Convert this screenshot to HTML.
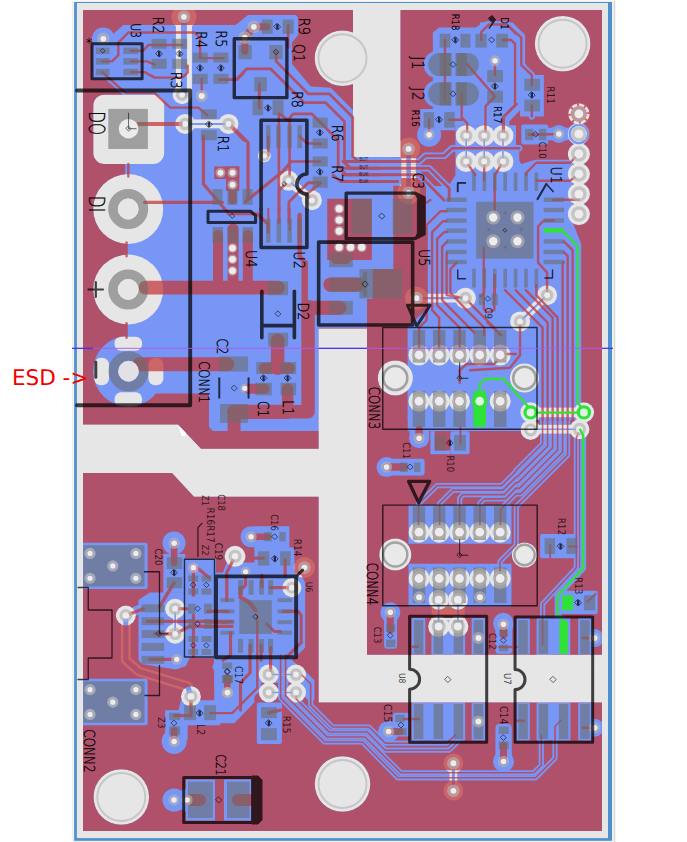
<!DOCTYPE html>
<html><head><meta charset="utf-8"><title>PCB layout</title>
<style>html,body{margin:0;padding:0;background:#fff;overflow:hidden}svg{display:block}text{font-family:"DejaVu Sans","Liberation Sans",sans-serif;text-rendering:geometricPrecision}</style>
</head><body>
<svg width="687" height="842" viewBox="0 0 687 842" shape-rendering="geometricPrecision">
<rect width="687" height="842" fill="#fff"/>
<rect x="72" y="0.5" width="642.5" height="842" fill="#fff"/>
<rect x="72" y="0.6" width="542.6" height="842" fill="#f1efec"/>
<rect x="614.4" y="0.6" width="0.8" height="842" fill="#c9c9c9"/>
<rect x="74.15" y="2" width="537.85" height="838.8" fill="#4f90d0"/>
<rect x="76.9" y="3" width="531.1" height="835.1" fill="#e6e6e6"/>
<g id="bottom">
<path d="M83,10H602V831H83Z" fill="#7896f5"/>
<g fill="#e6e6e6" stroke="#e6e6e6" stroke-width="0" stroke-linecap="round" stroke-linejoin="round">
<rect x="353.0" y="8.0" width="47.5" height="149.0"/>
<polygon points="80.0,424.6 178.0,424.6 201.0,448.8 318.6,448.8 318.6,328.5 367.0,328.5 367.0,654.8 604.0,654.8 604.0,702.6 318.6,702.6 318.6,496.8 194.0,496.8 172.0,473.0 80.0,473.0"/>
<circle cx="342.5" cy="58.2" r="27.8"/>
<circle cx="562.6" cy="43.7" r="27.8"/>
<circle cx="121.3" cy="797.0" r="27.8"/>
<circle cx="342.5" cy="784.0" r="27.8"/>
<rect x="93.28" y="94.64" width="70.86" height="69.36" rx="11"/>
<polyline points="183.92,16.78 183.92,94.64" stroke-width="16" fill="none"/>
<circle cx="183.92" cy="16.78" r="12.5"/>
<circle cx="182.17" cy="94.64" r="9.5"/>
<polyline points="185.17,123.94 228.48,123.94" stroke-width="8.8" fill="none"/>
<circle cx="185.17" cy="123.94" r="10"/>
<circle cx="228.48" cy="123.94" r="10"/>
<circle cx="264.33" cy="155.73" r="6.5"/>
<polyline points="288.62,180.77 311.91,200.3" stroke-width="8.8" fill="none"/>
<circle cx="288.62" cy="180.77" r="10"/>
<circle cx="311.91" cy="200.3" r="10"/>
<polyline points="466.18,135.7 466.18,161.49" stroke-width="1.6" fill="none"/>
<circle cx="466.18" cy="135.7" r="10.5"/>
<circle cx="466.18" cy="161.49" r="10.5"/>
<polyline points="484.21,135.7 484.21,161.49" stroke-width="1.6" fill="none"/>
<circle cx="484.21" cy="135.7" r="10.5"/>
<circle cx="484.21" cy="161.49" r="10.5"/>
<polyline points="502.99,135.7 502.99,161.49" stroke-width="1.6" fill="none"/>
<circle cx="502.99" cy="135.7" r="10.5"/>
<circle cx="502.99" cy="161.49" r="10.5"/>
<polyline points="408.6,148.97 408.6,192.79" stroke-width="14.5" fill="none"/>
<circle cx="408.6" cy="148.97" r="11.5"/>
<circle cx="408.6" cy="192.79" r="11.5"/>
<circle cx="578.9" cy="113.92" r="11.02"/>
<circle cx="578.9" cy="133.95" r="11.02"/>
<circle cx="578.9" cy="153.98" r="11.02"/>
<circle cx="578.9" cy="174.01" r="11.02"/>
<circle cx="578.9" cy="194.04" r="11.02"/>
<circle cx="578.9" cy="214.07" r="11.02"/>
<circle cx="128.2" cy="209.0" r="35.0"/>
<circle cx="128.2" cy="289.5" r="35.0"/>
<rect x="114.56" y="336.69" width="27.55" height="14.02" rx="6.5"/>
<rect x="114.56" y="392.27" width="27.55" height="14.53" rx="6.5"/>
<rect x="94.03" y="357.72" width="15.03" height="27.54" rx="7"/>
<rect x="148.36" y="357.72" width="15.03" height="27.54" rx="7"/>
<polyline points="416.61,298.13 465.43,298.13" stroke-width="8.6" fill="none"/>
<circle cx="416.61" cy="298.13" r="11.5"/>
<circle cx="465.43" cy="298.13" r="10.5"/>
<circle cx="419.0" cy="355.0" r="10.5"/>
<circle cx="419.0" cy="401.25" r="10.5"/>
<circle cx="439.2" cy="355.0" r="10.5"/>
<circle cx="439.2" cy="401.25" r="10.5"/>
<circle cx="459.5" cy="355.0" r="10.5"/>
<circle cx="459.5" cy="401.25" r="10.5"/>
<circle cx="479.75" cy="355.0" r="10.5"/>
<circle cx="500.2" cy="355.0" r="10.5"/>
<circle cx="500.2" cy="401.25" r="10.5"/>
<circle cx="395.3" cy="378.0" r="17.5"/>
<circle cx="524.5" cy="378.0" r="14.5"/>
<polyline points="547.1,295.13 520.06,321.42" stroke-width="8.6" fill="none"/>
<circle cx="547.1" cy="295.13" r="10"/>
<circle cx="520.06" cy="321.42" r="10"/>
<circle cx="125.83" cy="615.52" r="10.02"/>
<polyline points="175.15,608.76 175.15,633.8" stroke-width="4.4" fill="none"/>
<circle cx="175.15" cy="608.76" r="10"/>
<circle cx="175.15" cy="633.8" r="10"/>
<polyline points="125.8,617.0 125.8,660.0 138.6,671.4 188.0,686.5 190.75,696.25" stroke-width="9.8" fill="none"/>
<circle cx="190.93" cy="696.39" r="10.02"/>
<circle cx="291.88" cy="587.63" r="9.51"/>
<circle cx="304.39" cy="567.6" r="10.5"/>
<circle cx="235.04" cy="556.33" r="10.52"/>
<polyline points="268.75,674.5 296.0,674.5" stroke-width="1.4" fill="none"/>
<circle cx="268.75" cy="674.5" r="10.0"/>
<circle cx="296.0" cy="674.5" r="10.0"/>
<polyline points="268.75,692.5 296.0,692.5" stroke-width="1.4" fill="none"/>
<circle cx="268.75" cy="692.5" r="10.0"/>
<circle cx="296.0" cy="692.5" r="10.0"/>
<circle cx="419.0" cy="532.2" r="10.5"/>
<circle cx="419.0" cy="578.5" r="10.5"/>
<circle cx="439.2" cy="532.2" r="10.5"/>
<circle cx="439.2" cy="578.5" r="10.5"/>
<circle cx="459.5" cy="532.2" r="10.5"/>
<circle cx="459.5" cy="578.5" r="10.5"/>
<circle cx="479.75" cy="532.2" r="10.5"/>
<circle cx="479.75" cy="578.5" r="10.5"/>
<circle cx="500.2" cy="532.2" r="10.5"/>
<circle cx="500.2" cy="578.5" r="10.5"/>
<circle cx="395.3" cy="554.5" r="16.0"/>
<circle cx="524.5" cy="555.0" r="12.6"/>
<rect x="431.63" y="605.28" width="33.05" height="15.02"/>
<circle cx="438.64" cy="599.77" r="10.02"/>
<circle cx="438.64" cy="626.56" r="10.52"/>
<polyline points="438.64,599.77 438.64,626.56" stroke-width="1.6" fill="none"/>
<circle cx="457.92" cy="599.77" r="10.02"/>
<circle cx="457.92" cy="626.56" r="10.52"/>
<polyline points="457.92,599.77 457.92,626.56" stroke-width="1.6" fill="none"/>
<rect x="531.0" y="407.6" width="53.0" height="9.6"/>
<rect x="531.0" y="424.8" width="49.0" height="8.8"/>
<polyline points="531.0,429.3 579.0,429.3" stroke-width="1.4" fill="none"/>
<circle cx="530.6" cy="429.9" r="10.0"/>
<circle cx="579.5" cy="429.3" r="10.0"/>
<circle cx="530.6" cy="412.4" r="10.2"/>
<circle cx="583.9" cy="412.4" r="10.2"/>
<polyline points="453.41,763.24 453.41,790.79" stroke-width="7.8" fill="none"/>
<circle cx="453.41" cy="763.24" r="9.8"/>
<circle cx="453.41" cy="790.79" r="9.8"/>
</g>
<g fill="none" stroke="#7896f5" stroke-linecap="round" stroke-linejoin="round">
<polyline points="183.92,16.78 183.92,94.64" stroke-width="6" fill="none"/>
<polyline points="185.17,123.94 228.48,123.94" stroke-width="2" fill="none"/>
<polyline points="288.62,180.77 311.91,200.3" stroke-width="2" fill="none"/>
<polyline points="466.18,135.7 466.18,161.49" stroke-width="1.6" fill="none"/>
<polyline points="484.21,135.7 484.21,161.49" stroke-width="1.6" fill="none"/>
<polyline points="502.99,135.7 502.99,161.49" stroke-width="1.6" fill="none"/>
<polyline points="408.6,148.97 408.6,192.79" stroke-width="4.5" fill="none"/>
<circle cx="578.9" cy="133.95" r="9.2" stroke-width="2.4" stroke-dasharray="5.2 2"/>
<polyline points="416.61,298.13 465.43,298.13" stroke-width="2.2" fill="none"/>
<polyline points="547.1,295.13 520.06,321.42" stroke-width="2" fill="none"/>
<polyline points="175.15,608.76 175.15,633.8" stroke-width="1.6" fill="none"/>
<polyline points="125.8,617.0 125.8,660.0 138.6,671.4 188.0,686.5 190.75,696.25" stroke-width="5" fill="none"/>
<polyline points="268.75,674.5 296.0,674.5" stroke-width="1.4" fill="none"/>
<polyline points="268.75,692.5 296.0,692.5" stroke-width="1.4" fill="none"/>
<polyline points="438.64,599.77 438.64,626.56" stroke-width="1.6" fill="none"/>
<polyline points="457.92,599.77 457.92,626.56" stroke-width="1.6" fill="none"/>
<polyline points="531.0,429.3 579.0,429.3" stroke-width="1.4" fill="none"/>
<polyline points="453.41,763.24 453.41,790.79" stroke-width="3" fill="none"/>
</g>
</g>
<mask id="tm" maskUnits="userSpaceOnUse" x="0" y="0" width="687" height="842">
<path d="M83,10H602V831H83Z" fill="#fff"/>
<g fill="#000" stroke="#000" stroke-width="0" stroke-linecap="round" stroke-linejoin="round">
<rect x="353.0" y="8.0" width="47.5" height="149.0"/>
<polygon points="80.0,424.6 178.0,424.6 201.0,448.8 318.6,448.8 318.6,328.5 367.0,328.5 367.0,654.8 604.0,654.8 604.0,702.6 318.6,702.6 318.6,496.8 194.0,496.8 172.0,473.0 80.0,473.0"/>
<circle cx="342.5" cy="58.2" r="27.8"/>
<circle cx="562.6" cy="43.7" r="27.8"/>
<circle cx="121.3" cy="797.0" r="27.8"/>
<circle cx="342.5" cy="784.0" r="27.8"/>
<rect x="93.28" y="94.64" width="70.86" height="69.36" rx="11"/>
<circle cx="578.9" cy="153.98" r="11.02"/>
<circle cx="578.9" cy="174.01" r="11.02"/>
<circle cx="578.9" cy="194.04" r="11.02"/>
<circle cx="578.9" cy="214.07" r="11.02"/>
<circle cx="128.2" cy="209.0" r="35.0"/>
<circle cx="128.2" cy="289.5" r="35.0"/>
<circle cx="395.3" cy="378.0" r="17.5"/>
<circle cx="125.83" cy="615.52" r="10.02"/>
<circle cx="190.93" cy="696.39" r="10.02"/>
<circle cx="291.88" cy="587.63" r="9.51"/>
<circle cx="235.04" cy="556.33" r="10.52"/>
<circle cx="268.75" cy="674.5" r="10.0"/>
<circle cx="296.0" cy="674.5" r="10.0"/>
<circle cx="268.75" cy="692.5" r="10.0"/>
<circle cx="296.0" cy="692.5" r="10.0"/>
<circle cx="395.3" cy="554.5" r="16.0"/>
<circle cx="524.5" cy="555.0" r="12.6"/>
<circle cx="438.64" cy="599.77" r="10.02"/>
<circle cx="438.64" cy="626.56" r="10.52"/>
<circle cx="457.92" cy="599.77" r="10.02"/>
<circle cx="457.92" cy="626.56" r="10.52"/>
<rect x="531.0" y="407.6" width="53.0" height="9.6"/>
<rect x="531.0" y="424.8" width="49.0" height="8.8"/>
<circle cx="530.6" cy="429.9" r="10.0"/>
<circle cx="579.5" cy="429.3" r="10.0"/>
<circle cx="530.6" cy="412.4" r="10.2"/>
<circle cx="583.9" cy="412.4" r="10.2"/>
<polygon points="92.03,43.82 112.06,35.05 123.33,25.04 244.01,25.04 244.01,210.07 125.83,210.07 125.83,94.64 105.8,79.62 92.03,79.62"/>
<circle cx="103.3" cy="38.81" r="11.27"/>
<rect x="93.79" y="45.57" width="17.77" height="10.51" rx="2.0"/>
<rect x="121.33" y="45.57" width="19.02" height="10.51" rx="2.0"/>
<rect x="93.79" y="56.09" width="17.77" height="10.51" rx="2.0"/>
<rect x="121.33" y="56.09" width="19.02" height="10.51" rx="2.0"/>
<rect x="93.79" y="66.85" width="17.77" height="10.51" rx="2.0"/>
<rect x="121.33" y="66.85" width="19.02" height="10.51" rx="2.0"/>
<rect x="149.62" y="36.81" width="19.02" height="14.01" rx="2.0"/>
<rect x="149.62" y="56.84" width="19.02" height="14.01" rx="2.0"/>
<rect x="170.15" y="36.81" width="19.02" height="14.01" rx="2.0"/>
<rect x="170.15" y="56.84" width="19.02" height="14.01" rx="2.0"/>
<rect x="190.68" y="50.58" width="19.02" height="14.01" rx="2.0"/>
<rect x="190.68" y="71.86" width="19.02" height="14.02" rx="2.0"/>
<rect x="211.46" y="50.58" width="19.02" height="14.01" rx="2.0"/>
<rect x="211.46" y="71.86" width="19.02" height="14.02" rx="2.0"/>
<rect x="198.94" y="107.41" width="19.78" height="13.52" rx="2.0"/>
<rect x="198.94" y="128.2" width="19.78" height="14.01" rx="2.0"/>
<polyline points="138.35,123.94 185.17,123.94" stroke-width="7.8" fill="none"/>
<polyline points="102.05,61.34 112.06,61.34 118.32,55.08 118.32,42.56 128.33,32.55 194.68,32.55 200.19,38.06 200.19,58.09 223.48,58.09" stroke-width="6.2" fill="none"/>
<polyline points="130.84,50.83 142.86,50.83 148.36,45.07 182.17,45.07" stroke-width="6.2" fill="none"/>
<polyline points="130.84,61.34 147.11,61.34 154.62,64.6" stroke-width="6.2" fill="none"/>
<polyline points="130.84,72.11 144.61,72.11 154.62,77.62 182.17,77.62 187.67,72.61 187.67,65.6" stroke-width="6.2" fill="none"/>
<polyline points="102.05,72.11 125.83,93.14 154.62,93.14 170.15,107.66 198.44,107.66 207.2,115.17" stroke-width="6.2" fill="none"/>
<polyline points="201.69,78.87 201.69,95.89" stroke-width="6.2" fill="none"/>
<polyline points="219.72,79.62 237.25,79.62 244.01,72.61" stroke-width="6.2" fill="none"/>
<polyline points="203.45,136.45 203.45,184.03 228.99,214.07" stroke-width="7.0" fill="none"/>
<polyline points="228.48,123.94 244.01,140.21" stroke-width="7.0" fill="none"/>
<polyline points="144.61,202.3 222.23,202.3" stroke-width="7.0" fill="none"/>
<polyline points="128.33,164.0 128.33,176.51" stroke-width="6.2" fill="none"/>
<polygon points="208.0,25.04 235.54,25.04 248.06,15.02 295.63,15.02 298.14,17.53 298.14,35.05 291.88,42.56 291.88,63.85 310.65,86.38 330.68,87.63 353.22,110.17 353.22,157.24 380.01,157.24 380.01,210.07 208.0,210.07"/>
<polyline points="219.27,79.62 236.04,79.62 246.81,68.85 270.59,68.85 304.39,102.65 325.68,102.65 344.45,121.43 344.45,162.74 350.71,168.25 380.01,168.25" stroke-width="6.6" fill="none"/>
<polyline points="276.1,52.08 276.1,61.34 308.15,93.89 329.43,93.89 352.72,117.18 352.72,156.48 358.23,161.49 380.01,161.49" stroke-width="6.6" fill="none"/>
<polyline points="279.36,113.92 288.12,120.18 293.13,113.92 311.91,113.92 338.2,140.21 338.2,166.5 346.46,174.76 380.01,174.76" stroke-width="6.6" fill="none"/>
<polyline points="333.19,175.26 340.7,181.52 380.01,181.52" stroke-width="6.6" fill="none"/>
<polyline points="259.33,83.88 259.33,107.66" stroke-width="6.8" fill="none"/>
<polyline points="288.12,25.04 288.12,47.57" stroke-width="6.4" fill="none"/>
<polyline points="229.28,123.94 248.06,142.71 248.06,197.8" stroke-width="7.0" fill="none"/>
<polyline points="268.34,136.45 268.34,155.23" stroke-width="6.4" fill="none"/>
<polyline points="278.86,113.92 278.86,210.07" stroke-width="6.4" fill="none"/>
<polyline points="289.62,120.18 289.62,175.26" stroke-width="6.4" fill="none"/>
<polyline points="299.64,136.45 306.9,143.21 320.67,143.97" stroke-width="6.4" fill="none"/>
<polyline points="289.62,161.49 319.92,161.49" stroke-width="6.2" fill="none"/>
<polyline points="245.56,201.55 283.36,171.01 289.87,163.24" stroke-width="7.0" fill="none"/>
<polyline points="288.62,180.77 279.11,190.29 279.11,210.07" stroke-width="6.6" fill="none"/>
<polyline points="311.91,200.3 306.9,194.04 320.67,183.02" stroke-width="6.4" fill="none"/>
<polyline points="319.92,182.77 308.15,182.77 294.38,196.54 288.87,202.05 288.87,210.07" stroke-width="6.6" fill="none"/>
<polygon points="432.88,32.55 439.14,27.54 475.45,27.54 485.46,21.28 509.25,21.28 509.25,125.19 455.42,125.19 455.42,130.2 420.36,130.2 420.36,108.91 432.88,108.91"/>
<circle cx="437.14" cy="64.6" r="13.52"/>
<circle cx="437.14" cy="93.89" r="13.52"/>
<circle cx="429.13" cy="134.7" r="12.02"/>
<polygon points="455.42,125.19 516.01,125.19 516.01,150.23 519.26,150.23 519.26,210.07 444.15,210.07 444.15,192.79 455.42,175.26"/>
<polygon points="342.75,157.24 401.09,157.24 401.09,185.78 342.75,185.78"/>
<polyline points="444.9,40.06 444.9,100.15" stroke-width="6.2" fill="none"/>
<polyline points="466.68,63.85 494.98,96.39 485.46,106.41 485.46,131.45" stroke-width="6.2" fill="none"/>
<polyline points="461.68,93.89 461.68,117.68 467.18,123.18 467.18,135.2" stroke-width="6.2" fill="none"/>
<polyline points="449.16,119.68 461.68,119.68" stroke-width="6.2" fill="none"/>
<polyline points="429.13,119.68 429.13,134.7" stroke-width="6.2" fill="none"/>
<polyline points="481.21,40.06 481.21,32.05 488.72,24.54 506.74,24.54 516.01,33.8" stroke-width="6.2" fill="none"/>
<polyline points="494.98,60.84 494.98,75.11" stroke-width="6.2" fill="none"/>
<polyline points="502.99,40.06 509.25,40.06" stroke-width="6.2" fill="none"/>
<polyline points="502.99,135.7 502.99,117.68 516.76,103.91" stroke-width="6.2" fill="none"/>
<polyline points="454.17,148.22 519.26,148.22" stroke-width="6.2" fill="none"/>
<polyline points="342.75,161.49 419.11,161.49 425.37,155.73 444.15,155.73 452.16,148.22 455.42,148.22" stroke-width="6.6" fill="none"/>
<polyline points="342.75,168.25 429.13,168.25 449.16,188.28 449.16,200.3" stroke-width="6.6" fill="none"/>
<polyline points="342.75,174.76 419.11,174.76 444.15,200.3" stroke-width="6.6" fill="none"/>
<polyline points="342.75,181.52 397.83,181.52" stroke-width="6.6" fill="none"/>
<polygon points="480.0,22.53 512.55,22.53 525.07,35.05 525.07,63.85 533.83,75.11 543.85,75.11 543.85,116.42 520.06,116.42 520.06,110.17 508.04,122.68 508.04,125.19 480.0,125.19"/>
<polygon points="512.55,150.23 521.31,164.0 533.83,160.24 572.64,160.24 572.64,210.07 480.0,210.07 480.0,150.23"/>
<rect x="521.31" y="124.44" width="26.79" height="20.03" rx="2"/>
<rect x="546.35" y="127.69" width="32.55" height="12.52"/>
<circle cx="558.87" cy="133.95" r="9.01"/>
<circle cx="578.15" cy="133.95" r="11.02"/>
<polyline points="502.53,40.06 511.3,40.06 515.05,43.82 515.05,105.16 503.79,116.42 503.79,135.2" stroke-width="6.2" fill="none"/>
<polyline points="507.54,25.04 521.31,37.56 521.31,65.1 531.83,75.11 531.83,85.13" stroke-width="6.2" fill="none"/>
<polyline points="531.83,105.16 531.83,116.42" stroke-width="6.2" fill="none"/>
<polyline points="526.32,175.26 526.32,172.76 536.33,162.74 570.14,162.74 578.9,153.23" stroke-width="6.2" fill="none"/>
<polygon points="126.0,164.0 126.0,345.0 150.0,393.5 209.0,393.5 209.0,427.0 213.0,431.0 318.8,431.0 318.8,327.7 367.0,327.7 367.0,299.0 393.3,299.0 393.3,157.0 126.0,157.0"/>
<circle cx="128.5" cy="371.25" r="35.5"/>
<polygon points="426.0,186.0 572.5,186.0 572.5,222.0 581.25,244.0 581.25,420.0 407.75,420.0 407.75,327.0 426.0,310.0"/>
<polygon points="407.75,327.0 537.0,327.0 537.0,431.0 407.75,431.0"/>
<rect x="82.02" y="542.68" width="65.59" height="46.32" rx="2"/>
<rect x="82.02" y="678.87" width="65.59" height="46.32" rx="2"/>
<circle cx="174.0" cy="543.0" r="11.5"/>
<rect x="163.39" y="553.95" width="21.78" height="38.81"/>
<rect x="183.5" y="558.5" width="32.5" height="99.5"/>
<polygon points="138.5,600.0 150.0,592.5 184.5,592.5 184.5,657.0 190.0,657.0 186.0,666.0 176.0,669.5 160.0,667.0 142.0,664.0 138.5,660.0"/>
<polyline points="125.75,615.5 142.0,608.0" stroke-width="9" fill="none"/>
<polygon points="165.14,710.17 178.41,710.17 180.91,700.15 220.22,700.15 220.22,725.19 187.67,725.19 187.67,740.21 165.14,740.21"/>
<circle cx="174.15" cy="741.46" r="12.52"/>
<polyline points="210.21,713.17 232.24,713.17 257.28,688.13 257.28,615.02" stroke-width="7.6" fill="none"/>
<polygon points="215.97,657.09 244.76,657.09 244.76,680.12 237.75,686.38 237.75,697.65 217.22,697.65 217.22,675.11 212.21,667.6"/>
<circle cx="227.23" cy="692.64" r="11.27"/>
<polygon points="214.51,572.61 223.02,572.61 226.78,562.59 254.32,562.59 254.32,526.29 289.37,526.29 289.37,547.57 294.38,547.57 294.38,572.61 301.14,575.11 305.15,582.62 305.15,647.72 291.88,660.24 306.9,672.76 314.41,680.27 314.41,700.3 308.15,700.3 290.62,682.77 258.08,682.77 253.07,690.29 253.07,700.3 218.02,700.3 214.51,690.29"/>
<circle cx="251.06" cy="536.81" r="10.52"/>
<polyline points="301.9,675.0 310.7,683.8 310.7,705.1 332.6,727.0 369.0,727.0 385.3,743.2 446.7,743.2 455.4,735.2" stroke-width="5.2" fill="none"/>
<polyline points="296.1,692.6 296.1,698.9 329.2,732.0 367.2,732.0 385.3,750.2 449.2,750.2 458.0,741.5" stroke-width="5.2" fill="none"/>
<polyline points="285.6,655.0 285.6,695.6 327.0,737.0 365.0,737.0 401.0,772.8 533.8,772.8 541.3,765.3 541.3,735.0" stroke-width="5.2" fill="none"/>
<polyline points="280.6,655.0 280.6,698.1 324.5,742.0 362.5,742.0 397.8,777.8 535.5,777.8 555.0,758.2 555.0,726.5 561.3,720.0" stroke-width="5.2" fill="none"/>
<rect x="256.82" y="702.61" width="25.04" height="41.31" rx="2"/>
<polygon points="214.26,657.54 254.32,657.54 254.32,702.61 234.29,723.14 202.99,723.14 202.99,702.61 214.26,702.61"/>
<circle cx="174.0" cy="800.0" r="11.5"/>
<circle cx="188.0" cy="800.0" r="11.5"/>
<rect x="186.0" y="779.5" width="29.0" height="41.0"/>
<rect x="224.0" y="779.5" width="27.5" height="41.0"/>
<circle cx="419.11" cy="438.28" r="10.02"/>
<rect x="409.6" y="427.51" width="19.53" height="11.27"/>
<rect x="450.41" y="431.27" width="19.28" height="23.03" rx="2"/>
<polygon points="430.38,431.27 434.64,431.27 434.64,450.55 450.41,450.55 450.41,454.3 430.38,454.3"/>
<circle cx="386.56" cy="467.07" r="10.02"/>
<rect x="385.31" y="458.81" width="39.31" height="16.77" rx="3"/>
<rect x="408.5" y="505.0" width="103.0" height="38.75"/>
<rect x="408.5" y="563.75" width="103.0" height="42.75"/>
<circle cx="390.32" cy="612.29" r="10.02"/>
<rect x="384.06" y="610.02" width="13.02" height="38.8" rx="3"/>
<polyline points="542.59,418.75 542.59,443.79 515.8,470.58 516.01,471.33 501.74,485.6 437.14,485.6 418.61,503.88 418.61,525.16" stroke-width="5.2" fill="none"/>
<polyline points="547.6,418.75 547.6,446.29 517.06,476.84 516.01,477.09 502.99,490.11 452.91,490.11 439.64,503.38 439.64,525.16" stroke-width="5.2" fill="none"/>
<polyline points="552.61,418.75 552.61,448.04 518.06,482.59 516.01,482.59 504.24,494.61 462.93,494.61 459.67,498.12 459.67,525.16" stroke-width="5.2" fill="none"/>
<polyline points="557.62,418.75 557.62,450.05 519.31,488.35 516.01,488.1 505.49,498.87 484.21,498.87 479.95,503.12 479.95,525.16" stroke-width="5.2" fill="none"/>
<polyline points="562.62,418.75 562.62,452.05 520.81,493.86 516.01,493.86 500.48,509.38 500.48,525.16" stroke-width="5.2" fill="none"/>
<polyline points="567.63,418.75 567.63,455.05 516.3,506.38 516.3,545.19 500.03,561.46 500.03,575.23" stroke-width="5.2" fill="none"/>
<polyline points="579.65,430.02 576.39,437.53 576.39,567.72 542.59,604.03 542.59,630.07" stroke-width="5.2" fill="none"/>
<polyline points="542.59,627.54 542.59,645.07" stroke-width="5.2" fill="none"/>
<polyline points="579.65,428.76 583.15,435.02 583.15,568.22 557.62,595.76 557.62,615.29 566.38,623.3 566.38,630.07" stroke-width="6" fill="none"/>
<rect x="540.09" y="533.92" width="39.06" height="24.29" rx="2"/>
<rect x="557.62" y="590.76" width="40.06" height="23.28" rx="2"/>
<rect x="411.85" y="618.03" width="13.52" height="36.3"/>
<rect x="411.85" y="702.9" width="13.52" height="37.56"/>
<rect x="431.63" y="618.03" width="13.52" height="36.3"/>
<rect x="431.63" y="702.9" width="13.52" height="37.56"/>
<rect x="451.66" y="618.03" width="13.52" height="36.3"/>
<rect x="451.66" y="702.9" width="13.52" height="37.56"/>
<rect x="471.69" y="618.03" width="13.52" height="36.3"/>
<rect x="471.69" y="702.9" width="13.52" height="37.56"/>
<rect x="516.3" y="618.03" width="13.52" height="36.3"/>
<rect x="516.3" y="702.9" width="13.52" height="37.56"/>
<rect x="536.58" y="618.03" width="13.53" height="36.3"/>
<rect x="536.58" y="702.9" width="13.53" height="37.56"/>
<rect x="557.12" y="618.03" width="13.02" height="35.8"/>
<rect x="556.87" y="702.9" width="13.52" height="37.56"/>
<rect x="578.15" y="618.03" width="13.52" height="36.3"/>
<rect x="578.15" y="702.9" width="13.52" height="37.56"/>
<rect x="431.63" y="618.03" width="33.05" height="36.55"/>
<rect x="412.1" y="702.65" width="52.58" height="37.56"/>
<rect x="537.09" y="618.03" width="33.05" height="36.55"/>
<rect x="537.09" y="702.65" width="33.05" height="37.56"/>
<circle cx="594.67" cy="638.06" r="9.01"/>
<circle cx="594.67" cy="727.69" r="9.01"/>
<circle cx="503.49" cy="624.29" r="10.02"/>
<rect x="495.48" y="623.79" width="16.77" height="30.04" rx="3"/>
<circle cx="388.57" cy="731.45" r="10.52"/>
<rect x="392.82" y="712.67" width="16.78" height="23.78" rx="3"/>
<circle cx="503.49" cy="761.49" r="10.52"/>
<rect x="495.48" y="723.94" width="16.27" height="38.8" rx="4"/>
<circle cx="503.28" cy="622.8" r="10.02"/>
</g>
<g fill="#fff" stroke="#fff" stroke-width="0" stroke-linecap="round" stroke-linejoin="round">
<polyline points="138.35,123.94 185.17,123.94" stroke-width="4" fill="none"/>
<polyline points="102.05,61.34 112.06,61.34 118.32,55.08 118.32,42.56 128.33,32.55 194.68,32.55 200.19,38.06 200.19,58.09 223.48,58.09" stroke-width="2.4" fill="none"/>
<polyline points="130.84,50.83 142.86,50.83 148.36,45.07 182.17,45.07" stroke-width="2.4" fill="none"/>
<polyline points="130.84,61.34 147.11,61.34 154.62,64.6" stroke-width="2.4" fill="none"/>
<polyline points="130.84,72.11 144.61,72.11 154.62,77.62 182.17,77.62 187.67,72.61 187.67,65.6" stroke-width="2.4" fill="none"/>
<polyline points="102.05,72.11 125.83,93.14 154.62,93.14 170.15,107.66 198.44,107.66 207.2,115.17" stroke-width="2.4" fill="none"/>
<polyline points="201.69,78.87 201.69,95.89" stroke-width="2.4" fill="none"/>
<polyline points="219.72,79.62 237.25,79.62 244.01,72.61" stroke-width="2.4" fill="none"/>
<polyline points="203.45,136.45 203.45,184.03 228.99,214.07" stroke-width="3.2" fill="none"/>
<polyline points="228.48,123.94 244.01,140.21" stroke-width="3.2" fill="none"/>
<polyline points="144.61,202.3 222.23,202.3" stroke-width="3.2" fill="none"/>
<polyline points="128.33,164.0 128.33,176.51" stroke-width="2.4" fill="none"/>
<rect x="214.26" y="166.5" width="25.04" height="12.52"/>
<rect x="226.03" y="166.5" width="13.27" height="24.29"/>
<polyline points="232.54,185.28 232.54,200.3" stroke-width="8" fill="none"/>
<polyline points="266.84,26.79 253.82,26.79 244.81,37.56 244.81,51.33" stroke-width="7" fill="none"/>
<polyline points="219.27,79.62 236.04,79.62 246.81,68.85 270.59,68.85 304.39,102.65 325.68,102.65 344.45,121.43 344.45,162.74 350.71,168.25 380.01,168.25" stroke-width="2.8" fill="none"/>
<polyline points="276.1,52.08 276.1,61.34 308.15,93.89 329.43,93.89 352.72,117.18 352.72,156.48 358.23,161.49 380.01,161.49" stroke-width="2.8" fill="none"/>
<polyline points="279.36,113.92 288.12,120.18 293.13,113.92 311.91,113.92 338.2,140.21 338.2,166.5 346.46,174.76 380.01,174.76" stroke-width="2.8" fill="none"/>
<polyline points="333.19,175.26 340.7,181.52 380.01,181.52" stroke-width="2.8" fill="none"/>
<polyline points="259.33,83.88 259.33,107.66" stroke-width="3" fill="none"/>
<polyline points="288.12,25.04 288.12,47.57" stroke-width="2.6" fill="none"/>
<polyline points="229.28,123.94 248.06,142.71 248.06,197.8" stroke-width="3.2" fill="none"/>
<polyline points="268.34,136.45 268.34,155.23" stroke-width="2.6" fill="none"/>
<polyline points="278.86,113.92 278.86,210.07" stroke-width="2.6" fill="none"/>
<polyline points="289.62,120.18 289.62,175.26" stroke-width="2.6" fill="none"/>
<polyline points="299.64,136.45 306.9,143.21 320.67,143.97" stroke-width="2.6" fill="none"/>
<polyline points="289.62,161.49 319.92,161.49" stroke-width="2.4" fill="none"/>
<polyline points="245.56,201.55 283.36,171.01 289.87,163.24" stroke-width="3.2" fill="none"/>
<polyline points="288.62,180.77 279.11,190.29 279.11,210.07" stroke-width="2.8" fill="none"/>
<polyline points="311.91,200.3 306.9,194.04 320.67,183.02" stroke-width="2.6" fill="none"/>
<polyline points="319.92,182.77 308.15,182.77 294.38,196.54 288.87,202.05 288.87,210.07" stroke-width="2.8" fill="none"/>
<polyline points="444.9,40.06 444.9,100.15" stroke-width="2.4" fill="none"/>
<polyline points="466.68,63.85 494.98,96.39 485.46,106.41 485.46,131.45" stroke-width="2.4" fill="none"/>
<polyline points="461.68,93.89 461.68,117.68 467.18,123.18 467.18,135.2" stroke-width="2.4" fill="none"/>
<polyline points="449.16,119.68 461.68,119.68" stroke-width="2.4" fill="none"/>
<polyline points="429.13,119.68 429.13,134.7" stroke-width="2.4" fill="none"/>
<polyline points="481.21,40.06 481.21,32.05 488.72,24.54 506.74,24.54 516.01,33.8" stroke-width="2.4" fill="none"/>
<polyline points="494.98,60.84 494.98,75.11" stroke-width="2.4" fill="none"/>
<polyline points="502.99,40.06 509.25,40.06" stroke-width="2.4" fill="none"/>
<polyline points="502.99,135.7 502.99,117.68 516.76,103.91" stroke-width="2.4" fill="none"/>
<polyline points="454.17,148.22 519.26,148.22" stroke-width="2.4" fill="none"/>
<polyline points="342.75,161.49 419.11,161.49 425.37,155.73 444.15,155.73 452.16,148.22 455.42,148.22" stroke-width="2.8" fill="none"/>
<polyline points="342.75,168.25 429.13,168.25 449.16,188.28 449.16,200.3" stroke-width="2.8" fill="none"/>
<polyline points="342.75,174.76 419.11,174.76 444.15,200.3" stroke-width="2.8" fill="none"/>
<polyline points="342.75,181.52 397.83,181.52" stroke-width="2.8" fill="none"/>
<polyline points="466.18,161.49 475.45,175.26" stroke-width="2.4" fill="none"/>
<polyline points="484.21,161.49 484.21,180.27" stroke-width="2.4" fill="none"/>
<polyline points="502.99,161.49 494.73,175.26 494.73,210.07" stroke-width="2.4" fill="none"/>
<polyline points="502.53,40.06 511.3,40.06 515.05,43.82 515.05,105.16 503.79,116.42 503.79,135.2" stroke-width="2.4" fill="none"/>
<polyline points="507.54,25.04 521.31,37.56 521.31,65.1 531.83,75.11 531.83,85.13" stroke-width="2.4" fill="none"/>
<polyline points="531.83,105.16 531.83,116.42" stroke-width="2.4" fill="none"/>
<polyline points="528.82,134.45 543.85,134.45 558.87,133.95" stroke-width="2.4" fill="none"/>
<polyline points="526.32,175.26 526.32,172.76 536.33,162.74 570.14,162.74 578.9,153.23" stroke-width="2.4" fill="none"/>
<polyline points="536.33,180.77 570.14,180.77 578.9,174.01" stroke-width="2.4" fill="none"/>
<polyline points="552.61,199.8 578.9,199.8 578.9,194.04" stroke-width="2.4" fill="none"/>
<polyline points="126.58,242.55 126.58,256.32" stroke-width="2.4" fill="none"/>
<polyline points="126.58,323.17 126.58,337.69" stroke-width="2.4" fill="none"/>
<polyline points="145.41,287.62 278.11,287.62" stroke-width="13.75" fill="none"/>
<polyline points="218.02,235.04 218.02,287.62" stroke-width="10" fill="none"/>
<polyline points="233.04,228.78 233.04,287.62" stroke-width="11" fill="none"/>
<polyline points="247.81,235.04 247.81,287.62" stroke-width="10" fill="none"/>
<polyline points="139.6,364.23 227.23,364.23" stroke-width="14" fill="none"/>
<polyline points="277.6,340.2 277.6,368.24" stroke-width="13.5" fill="none"/>
<polyline points="264.33,368.24 289.37,368.24" stroke-width="11" fill="none"/>
<polyline points="308.03,306.64 308.03,411.8 287.62,411.8" stroke-width="13.4" fill="none"/>
<polyline points="304.7,263.0 304.7,306.0" stroke-width="6.5" fill="none"/>
<polyline points="299.6,215.0 299.6,256.0 304.7,263.0" stroke-width="4.5" fill="none"/>
<polyline points="287.62,389.02 287.62,411.8" stroke-width="11.5" fill="none"/>
<polyline points="287.62,411.8 234.29,411.8" stroke-width="14.3" fill="none"/>
<polyline points="234.04,411.8 234.04,435.34" stroke-width="13" fill="none"/>
<polyline points="308.03,307.65 339.45,307.65" stroke-width="13.9" fill="none"/>
<polyline points="248.06,388.77 264.33,388.77" stroke-width="10" fill="none"/>
<polyline points="268.34,208.75 268.34,230.03" stroke-width="2" fill="none"/>
<polyline points="278.86,208.75 278.86,222.52" stroke-width="2.6" fill="none"/>
<polyline points="289.62,208.75 289.62,230.03" stroke-width="2" fill="none"/>
<polyline points="228.67,213.76 257.05,213.76 267.97,224.24 267.97,231.88" stroke-width="3.2" fill="none"/>
<polyline points="279.11,208.75 279.11,222.52" stroke-width="2.8" fill="none"/>
<polyline points="288.87,208.75 288.87,222.52" stroke-width="2.8" fill="none"/>
<rect x="327.19" y="198.79" width="44.63" height="61.14"/>
<polyline points="335.74,259.55 346.18,259.55" stroke-width="9" fill="none"/>
<polyline points="330.42,284.62 356.63,284.62" stroke-width="14.2" fill="none"/>
<rect x="372.77" y="269.05" width="20.89" height="32.28"/>
<polyline points="312.0,307.98 339.54,307.98" stroke-width="13.3" fill="none"/>
<polyline points="446.65,211.25 440.39,211.25 426.62,225.02 426.62,320.17 419.11,327.68 419.11,350.21" stroke-width="2.4" fill="none"/>
<polyline points="446.65,221.27 442.9,221.27 432.13,232.03 432.13,310.15 439.14,317.66 439.14,350.21" stroke-width="2.4" fill="none"/>
<polyline points="446.65,232.03 444.15,232.03 437.14,238.79 437.14,305.14 459.67,327.68 459.67,350.21" stroke-width="2.4" fill="none"/>
<polyline points="446.65,242.05 442.15,246.55 442.15,300.14 474.2,332.68" stroke-width="2.4" fill="none"/>
<polyline points="446.65,252.56 446.65,295.13 465.43,298.13" stroke-width="2.4" fill="none"/>
<polyline points="456.67,262.58 450.41,268.84 450.41,292.62 465.43,308.9 484.21,327.68 484.21,335.19" stroke-width="2.4" fill="none"/>
<polyline points="419.11,207.5 430.38,199.98" stroke-width="2.4" fill="none"/>
<polyline points="465.43,298.13 474.2,307.65 494.23,327.68 500.48,335.19" stroke-width="2.4" fill="none"/>
<polyline points="484.21,268.84 484.21,292.62 480.45,296.38" stroke-width="2.4" fill="none"/>
<polyline points="494.73,275.1 494.73,295.13" stroke-width="2.4" fill="none"/>
<polyline points="459.67,382.76 459.67,370.24 466.68,363.98 494.23,363.98 504.24,353.97 516.01,353.97" stroke-width="2.4" fill="none"/>
<polyline points="553.86,220.52 543.85,220.52 538.09,226.27 538.09,262.58 547.1,272.59 547.1,295.13" stroke-width="2.4" fill="none"/>
<polyline points="563.88,241.3 572.64,250.06 572.64,420.07" stroke-width="2.4" fill="none"/>
<polyline points="563.88,252.06 567.63,255.82 567.63,420.07" stroke-width="2.4" fill="none"/>
<polyline points="563.88,262.08 562.62,263.83 562.62,420.07" stroke-width="2.4" fill="none"/>
<polyline points="536.33,285.11 536.33,295.13 557.62,317.66 557.62,420.07" stroke-width="2.4" fill="none"/>
<polyline points="525.82,290.12 552.61,317.66 552.61,420.07" stroke-width="2.4" fill="none"/>
<polyline points="515.55,290.12 547.6,322.67 547.6,420.07" stroke-width="2.4" fill="none"/>
<polyline points="505.04,290.12 542.59,327.68 542.59,420.07" stroke-width="2.4" fill="none"/>
<polyline points="494.27,275.1 494.27,310.15 487.51,312.65 483.76,308.9 483.76,247.56" stroke-width="2.4" fill="none"/>
<polyline points="520.06,321.42 520.06,355.22 510.05,367.74 469.98,370.24" stroke-width="2.4" fill="none"/>
<polyline points="487.51,322.67 501.28,335.19" stroke-width="2.4" fill="none"/>
<polyline points="174.15,543.18 174.15,562.71" stroke-width="6.5" fill="none"/>
<polyline points="193.43,567.72 193.43,595.26" stroke-width="3.2" fill="none"/>
<polyline points="193.43,615.02 193.43,657.59" stroke-width="3.2" fill="none"/>
<polyline points="197.19,567.72 209.21,577.74" stroke-width="3.2" fill="none"/>
<polyline points="125.83,615.52 143.36,608.76" stroke-width="3.2" fill="none"/>
<polyline points="175.15,608.76 187.17,608.76" stroke-width="3.2" fill="none"/>
<polyline points="147.11,621.28 232.24,621.28" stroke-width="3.2" fill="none"/>
<polyline points="154.62,633.8 175.15,633.8" stroke-width="3.2" fill="none"/>
<polyline points="149.62,659.34 176.66,659.34" stroke-width="3.4" fill="none"/>
<polyline points="159.63,606.53 174.15,582.74" stroke-width="3.4" fill="none"/>
<polyline points="175.15,633.8 189.68,626.29 232.24,626.29" stroke-width="3.2" fill="none"/>
<polyline points="174.15,730.2 174.15,741.46" stroke-width="6.5" fill="none"/>
<polyline points="190.93,696.39 190.93,715.67 174.65,715.67" stroke-width="3.4" fill="none"/>
<polyline points="210.21,713.17 232.24,713.17 257.28,688.13 257.28,615.02" stroke-width="2.4" fill="none"/>
<polyline points="227.23,677.62 227.23,692.64" stroke-width="6.5" fill="none"/>
<polyline points="251.06,536.81 268.09,536.81" stroke-width="6.5" fill="none"/>
<polyline points="253.07,558.09 263.58,558.09" stroke-width="3.2" fill="none"/>
<polyline points="285.12,560.09 285.12,575.11" stroke-width="3.2" fill="none"/>
<polyline points="270.59,587.63 291.88,587.63" stroke-width="3.4" fill="none"/>
<polyline points="245.56,571.86 245.56,585.13 240.55,590.14" stroke-width="3.2" fill="none"/>
<polyline points="240.55,587.63 240.55,597.65 248.06,601.4 255.57,610.17" stroke-width="4" fill="none"/>
<polyline points="235.04,556.33 226.78,572.61 226.78,600.15" stroke-width="3.2" fill="none"/>
<polyline points="261.83,575.11 261.83,586.38" stroke-width="3.2" fill="none"/>
<polyline points="266.84,623.94 274.35,631.45 280.61,631.45" stroke-width="3" fill="none"/>
<polyline points="208.0,611.42 228.03,611.42" stroke-width="3.2" fill="none"/>
<polyline points="208.0,622.18 228.03,622.18" stroke-width="3.2" fill="none"/>
<polyline points="283.11,611.42 298.14,611.42 301.14,615.17 301.14,642.71 285.62,658.24" stroke-width="3.2" fill="none"/>
<polyline points="230.53,632.7 230.53,655.23 223.02,660.24" stroke-width="3.2" fill="none"/>
<polyline points="250.06,645.22 250.06,672.76 240.55,682.77 240.55,710.07" stroke-width="3.2" fill="none"/>
<polyline points="261.08,645.22 261.08,660.24" stroke-width="3.2" fill="none"/>
<polyline points="270.59,647.72 270.59,674.01" stroke-width="3.2" fill="none"/>
<polyline points="301.9,675.0 310.7,683.8 310.7,705.1 332.6,727.0 369.0,727.0 385.3,743.2 446.7,743.2 455.4,735.2" stroke-width="1.6" fill="none"/>
<polyline points="296.1,692.6 296.1,698.9 329.2,732.0 367.2,732.0 385.3,750.2 449.2,750.2 458.0,741.5" stroke-width="1.6" fill="none"/>
<polyline points="285.6,655.0 285.6,695.6 327.0,737.0 365.0,737.0 401.0,772.8 533.8,772.8 541.3,765.3 541.3,735.0" stroke-width="1.6" fill="none"/>
<polyline points="280.6,655.0 280.6,698.1 324.5,742.0 362.5,742.0 397.8,777.8 535.5,777.8 555.0,758.2 555.0,726.5 561.3,720.0" stroke-width="1.6" fill="none"/>
<polyline points="268.84,712.62 280.61,710.12" stroke-width="3.2" fill="none"/>
<polyline points="190.0,800.0 200.0,800.0" stroke-width="12" fill="none"/>
<polyline points="238.0,800.0 260.0,800.0" stroke-width="12" fill="none"/>
<polyline points="419.11,430.02 419.11,438.28" stroke-width="7.5" fill="none"/>
<polyline points="460.42,427.51 460.42,443.79" stroke-width="2" fill="none"/>
<polyline points="386.56,467.07 404.09,467.07" stroke-width="7.5" fill="none"/>
<polyline points="390.32,611.77 390.32,630.05" stroke-width="7" fill="none"/>
<polyline points="542.59,418.75 542.59,443.79 515.8,470.58 516.01,471.33 501.74,485.6 437.14,485.6 418.61,503.88 418.61,525.16" stroke-width="1.6" fill="none"/>
<polyline points="547.6,418.75 547.6,446.29 517.06,476.84 516.01,477.09 502.99,490.11 452.91,490.11 439.64,503.38 439.64,525.16" stroke-width="1.6" fill="none"/>
<polyline points="552.61,418.75 552.61,448.04 518.06,482.59 516.01,482.59 504.24,494.61 462.93,494.61 459.67,498.12 459.67,525.16" stroke-width="1.6" fill="none"/>
<polyline points="557.62,418.75 557.62,450.05 519.31,488.35 516.01,488.1 505.49,498.87 484.21,498.87 479.95,503.12 479.95,525.16" stroke-width="1.6" fill="none"/>
<polyline points="562.62,418.75 562.62,452.05 520.81,493.86 516.01,493.86 500.48,509.38 500.48,525.16" stroke-width="1.6" fill="none"/>
<polyline points="567.63,418.75 567.63,455.05 516.3,506.38 516.3,545.19 500.03,561.46 500.03,575.23" stroke-width="1.6" fill="none"/>
<polyline points="579.65,430.02 576.39,437.53 576.39,567.72 542.59,604.03 542.59,630.07" stroke-width="1.6" fill="none"/>
<polyline points="542.59,627.54 542.59,645.07" stroke-width="1.6" fill="none"/>
<polyline points="550.11,545.19 550.11,557.71" stroke-width="2" fill="none"/>
<polyline points="568.88,546.44 577.15,546.44" stroke-width="2" fill="none"/>
<polyline points="587.66,601.52 595.67,594.01" stroke-width="2" fill="none"/>
<polyline points="582.65,638.06 594.67,638.06" stroke-width="2.4" fill="none"/>
<polyline points="582.65,727.69 594.67,727.69" stroke-width="2.4" fill="none"/>
<polyline points="412.85,646.82 417.86,646.82" stroke-width="2.4" fill="none"/>
<polyline points="503.49,624.29 503.49,635.05" stroke-width="7" fill="none"/>
<polyline points="499.23,647.07 516.76,647.07" stroke-width="2.6" fill="none"/>
<polyline points="404.09,718.93 419.11,718.93" stroke-width="2.6" fill="none"/>
<polyline points="388.57,731.45 400.33,731.45" stroke-width="7" fill="none"/>
<polyline points="503.49,745.22 503.49,761.49" stroke-width="7" fill="none"/>
<polyline points="517.56,720.68 523.82,720.68" stroke-width="2.6" fill="none"/>
</g>
</mask>
<rect width="687" height="842" fill="rgb(195,57,62)" fill-opacity=".75" mask="url(#tm)"/>
<g fill="#6a6a6a" fill-opacity=".58">
<rect x="108.3" y="108.91" width="39.56" height="40.06"/>
<rect x="95.79" y="47.57" width="13.77" height="6.51"/>
<rect x="123.33" y="47.57" width="15.02" height="6.51"/>
<rect x="95.79" y="58.09" width="13.77" height="6.51"/>
<rect x="123.33" y="58.09" width="15.02" height="6.51"/>
<rect x="95.79" y="68.85" width="13.77" height="6.51"/>
<rect x="123.33" y="68.85" width="15.02" height="6.51"/>
<rect x="151.62" y="38.81" width="15.02" height="10.01"/>
<rect x="151.62" y="58.84" width="15.02" height="10.01"/>
<rect x="172.15" y="38.81" width="15.02" height="10.01"/>
<rect x="172.15" y="58.84" width="15.02" height="10.01"/>
<rect x="192.68" y="52.58" width="15.02" height="10.01"/>
<rect x="192.68" y="73.86" width="15.02" height="10.02"/>
<rect x="213.46" y="52.58" width="15.02" height="10.01"/>
<rect x="213.46" y="73.86" width="15.02" height="10.02"/>
<rect x="200.94" y="109.41" width="15.78" height="9.52"/>
<rect x="200.94" y="130.2" width="15.78" height="10.01"/>
<rect x="261.83" y="19.53" width="10.77" height="14.27"/>
<rect x="282.61" y="19.53" width="11.02" height="14.27"/>
<rect x="238.55" y="45.07" width="13.27" height="14.27"/>
<rect x="269.34" y="45.07" width="13.27" height="14.27"/>
<rect x="254.32" y="77.12" width="12.52" height="14.27"/>
<rect x="252.57" y="100.15" width="10.51" height="15.02"/>
<rect x="272.6" y="100.15" width="11.01" height="15.02"/>
<rect x="312.66" y="117.68" width="15.02" height="10.01"/>
<rect x="312.66" y="138.46" width="15.02" height="10.01"/>
<rect x="312.66" y="156.48" width="15.02" height="10.02"/>
<rect x="312.66" y="176.51" width="15.02" height="11.27"/>
<rect x="266.09" y="125.19" width="4.5" height="23.03"/>
<rect x="276.1" y="125.19" width="4.51" height="23.03"/>
<rect x="287.37" y="125.19" width="4.51" height="23.03"/>
<rect x="297.38" y="125.19" width="4.51" height="23.03"/>
<rect x="212.51" y="189.03" width="10.01" height="15.78"/>
<rect x="227.53" y="189.03" width="10.01" height="15.78"/>
<rect x="242.55" y="189.03" width="10.02" height="15.78"/>
<rect x="439.64" y="33.8" width="10.77" height="13.77"/>
<rect x="460.42" y="33.8" width="10.02" height="13.77"/>
<rect x="475.45" y="33.8" width="11.26" height="13.77"/>
<rect x="496.23" y="33.8" width="11.77" height="13.77"/>
<path d="M451.66,53.08 H439.64 A11.5,11.5 0 0 0 439.64,76.11 H451.66 Z"/>
<path d="M455.42,53.08 H467.44 A11.5,11.5 0 0 1 467.44,76.11 H455.42 Z"/>
<rect x="439.64" y="53.08" width="10.77" height="23.03"/>
<rect x="456.67" y="53.08" width="10.01" height="23.03"/>
<path d="M451.66,82.37 H439.64 A11.5,11.5 0 0 0 439.64,105.41 H451.66 Z"/>
<path d="M455.42,82.37 H467.44 A11.5,11.5 0 0 1 467.44,105.41 H455.42 Z"/>
<rect x="439.64" y="82.37" width="10.77" height="23.04"/>
<rect x="456.67" y="82.37" width="10.01" height="23.04"/>
<rect x="423.62" y="112.17" width="10.52" height="15.52"/>
<rect x="444.15" y="112.17" width="10.52" height="15.52"/>
<rect x="487.21" y="70.11" width="15.78" height="12.01"/>
<rect x="487.21" y="90.64" width="15.78" height="12.01"/>
<rect x="524.32" y="78.87" width="15.77" height="11.77"/>
<rect x="524.32" y="99.65" width="15.77" height="11.77"/>
<rect x="525.07" y="128.94" width="8.26" height="11.27"/>
<rect x="538.84" y="128.94" width="7.51" height="11.27"/>
<circle cx="128.2" cy="209" r="15.2" fill="none" stroke="#6a6a6a" stroke-opacity=".58" stroke-width="9.6"/>
<circle cx="128.2" cy="289.5" r="15.2" fill="none" stroke="#6a6a6a" stroke-opacity=".58" stroke-width="9.6"/>
<circle cx="128.5" cy="371.25" r="15.2" fill="none" stroke="#6a6a6a" stroke-opacity=".58" stroke-width="9.6"/>
<rect x="212.51" y="227.03" width="10.51" height="15.52"/>
<rect x="227.78" y="227.03" width="10.52" height="15.52"/>
<rect x="242.55" y="227.03" width="10.52" height="15.52"/>
<rect x="266.09" y="218.76" width="4.5" height="23.79"/>
<rect x="276.6" y="218.76" width="4.51" height="23.79"/>
<rect x="287.37" y="218.76" width="4.51" height="23.79"/>
<rect x="297.38" y="218.76" width="4.51" height="23.79"/>
<rect x="268.09" y="281.36" width="20.03" height="13.77"/>
<rect x="268.09" y="332.68" width="20.03" height="13.77"/>
<rect x="219.27" y="356.47" width="28.79" height="15.02"/>
<rect x="220.02" y="404.04" width="28.04" height="18.78"/>
<rect x="256.32" y="361.98" width="15.53" height="12.02"/>
<rect x="280.61" y="361.98" width="15.52" height="12.02"/>
<rect x="255.57" y="382.76" width="16.28" height="12.52"/>
<rect x="280.61" y="382.76" width="15.52" height="12.52"/>
<rect x="351.88" y="198.79" width="19.94" height="35.13"/>
<rect x="392.71" y="198.79" width="19.37" height="35.13"/>
<rect x="329.09" y="252.91" width="23.74" height="14.24"/>
<rect x="329.09" y="277.6" width="34.18" height="14.24"/>
<rect x="359.47" y="269.05" width="42.73" height="29.43"/>
<rect x="362.89" y="271.9" width="4.18" height="24.68"/>
<rect x="329.09" y="300.95" width="23.74" height="13.68"/>
<rect x="476.2" y="201.8" width="57.3" height="56.8"/>
<circle cx="505.4" cy="213" r="1.8"/>
<circle cx="488.8" cy="229.5" r="1.8"/>
<circle cx="521.3" cy="229.5" r="1.8"/>
<circle cx="505.4" cy="247" r="1.8"/>
<rect x="446.0" y="197.6" width="20.6" height="4.4"/>
<rect x="543.7" y="197.6" width="20.3" height="4.4"/>
<rect x="446.0" y="207.8" width="20.6" height="4.4"/>
<rect x="543.7" y="207.8" width="20.3" height="4.4"/>
<rect x="446.0" y="218.3" width="20.6" height="4.4"/>
<rect x="543.7" y="218.3" width="20.3" height="4.4"/>
<rect x="446.0" y="228.5" width="20.6" height="4.4"/>
<rect x="446.0" y="239.3" width="20.6" height="4.4"/>
<rect x="543.7" y="239.3" width="20.3" height="4.4"/>
<rect x="446.0" y="249.8" width="20.6" height="4.4"/>
<rect x="543.7" y="249.8" width="20.3" height="4.4"/>
<rect x="446.0" y="259.8" width="20.6" height="4.4"/>
<rect x="543.7" y="259.8" width="20.3" height="4.4"/>
<rect x="472.2" y="172.5" width="3.6" height="18.5"/>
<rect x="472.2" y="268.75" width="3.6" height="18.75"/>
<rect x="482.6" y="172.5" width="3.6" height="18.5"/>
<rect x="482.6" y="268.75" width="3.6" height="18.75"/>
<rect x="493.0" y="172.5" width="3.6" height="18.5"/>
<rect x="493.0" y="268.75" width="3.6" height="18.75"/>
<rect x="503.4" y="172.5" width="3.6" height="18.5"/>
<rect x="503.4" y="268.75" width="3.6" height="18.75"/>
<rect x="513.8" y="172.5" width="3.6" height="18.5"/>
<rect x="513.8" y="268.75" width="3.6" height="18.75"/>
<rect x="524.2" y="172.5" width="3.6" height="18.5"/>
<rect x="524.2" y="268.75" width="3.6" height="18.75"/>
<rect x="534.6" y="172.5" width="3.6" height="18.5"/>
<rect x="534.6" y="268.75" width="3.6" height="18.75"/>
<rect x="412.8" y="330.0" width="12.4" height="32.5"/>
<rect x="412.8" y="391.0" width="12.4" height="36.0"/>
<rect x="433.0" y="330.0" width="12.4" height="32.5"/>
<rect x="433.0" y="391.0" width="12.4" height="36.0"/>
<rect x="453.3" y="330.0" width="12.4" height="32.5"/>
<rect x="453.3" y="391.0" width="12.4" height="36.0"/>
<rect x="473.55" y="330.0" width="12.4" height="32.5"/>
<rect x="473.55" y="391.0" width="12.4" height="36.0"/>
<rect x="494.0" y="330.0" width="12.4" height="32.5"/>
<rect x="494.0" y="391.0" width="12.4" height="36.0"/>
<rect x="478.7" y="293.88" width="6.26" height="11.26"/>
<rect x="491.72" y="293.88" width="6.01" height="11.26"/>
<rect x="83.27" y="545.19" width="61.34" height="41.31"/>
<rect x="83.27" y="681.37" width="61.34" height="41.31"/>
<rect x="166.64" y="557.21" width="15.53" height="11.76"/>
<rect x="166.64" y="577.24" width="15.53" height="11.01"/>
<rect x="188.25" y="575.5" width="10.0" height="6.0"/>
<rect x="188.25" y="588.5" width="10.0" height="6.0"/>
<rect x="201.5" y="575.5" width="10.0" height="6.0"/>
<rect x="201.5" y="588.5" width="10.0" height="6.0"/>
<rect x="188.0" y="603.75" width="7.5" height="10.0"/>
<rect x="204.0" y="603.75" width="8.0" height="10.0"/>
<rect x="188.0" y="619.0" width="7.5" height="10.0"/>
<rect x="204.0" y="619.0" width="8.0" height="10.0"/>
<rect x="188.25" y="636.0" width="10.0" height="6.0"/>
<rect x="188.25" y="649.0" width="10.0" height="6.0"/>
<rect x="201.5" y="636.0" width="10.0" height="6.0"/>
<rect x="201.5" y="649.0" width="10.0" height="6.0"/>
<rect x="141.6" y="604.26" width="22.54" height="8.01"/>
<rect x="141.6" y="617.15" width="22.54" height="8.01"/>
<rect x="141.6" y="630.05" width="22.54" height="8.01"/>
<rect x="141.6" y="642.94" width="22.54" height="8.01"/>
<rect x="141.6" y="655.83" width="22.54" height="8.02"/>
<rect x="184.17" y="705.16" width="11.77" height="15.02"/>
<rect x="204.2" y="705.16" width="11.77" height="15.02"/>
<rect x="169.15" y="712.67" width="11.01" height="7.51"/>
<rect x="169.15" y="726.44" width="11.01" height="8.76"/>
<rect x="222.23" y="675.11" width="10.01" height="8.01"/>
<rect x="222.23" y="662.59" width="10.01" height="6.51"/>
<rect x="239.3" y="600.15" width="32.55" height="33.8"/>
<rect x="238.05" y="580.12" width="5.0" height="14.52"/>
<rect x="238.05" y="638.96" width="5.0" height="13.77"/>
<rect x="248.56" y="580.12" width="5.01" height="14.52"/>
<rect x="248.56" y="638.96" width="5.01" height="13.77"/>
<rect x="259.08" y="580.12" width="5.0" height="14.52"/>
<rect x="259.08" y="638.96" width="5.0" height="13.77"/>
<rect x="268.09" y="580.12" width="5.01" height="14.52"/>
<rect x="268.09" y="638.96" width="5.01" height="13.77"/>
<rect x="220.52" y="598.15" width="13.77" height="4.0"/>
<rect x="277.6" y="598.15" width="14.28" height="4.0"/>
<rect x="220.52" y="609.41" width="13.77" height="4.01"/>
<rect x="277.6" y="609.41" width="14.28" height="4.01"/>
<rect x="220.52" y="620.18" width="13.77" height="4.01"/>
<rect x="277.6" y="620.18" width="14.28" height="4.01"/>
<rect x="220.52" y="630.7" width="13.77" height="4.0"/>
<rect x="277.6" y="630.7" width="14.28" height="4.0"/>
<rect x="264.33" y="532.05" width="7.52" height="9.26"/>
<rect x="279.36" y="532.05" width="6.26" height="9.26"/>
<rect x="258.08" y="551.33" width="11.26" height="14.27"/>
<rect x="280.11" y="551.33" width="10.51" height="14.27"/>
<rect x="261.08" y="707.12" width="15.77" height="11.01"/>
<rect x="261.08" y="728.15" width="15.77" height="12.02"/>
<rect x="222.52" y="675.07" width="10.52" height="8.01"/>
<rect x="188.0" y="781.7" width="24.8" height="36.3"/>
<rect x="227.0" y="781.7" width="22.5" height="36.3"/>
<rect x="434.64" y="435.02" width="10.76" height="15.53"/>
<rect x="454.17" y="435.02" width="11.76" height="15.53"/>
<rect x="400.33" y="462.56" width="7.52" height="9.52"/>
<rect x="414.11" y="462.56" width="6.25" height="9.52"/>
<rect x="412.8" y="506.25" width="12.4" height="33.75"/>
<rect x="412.8" y="567.5" width="12.4" height="35.5"/>
<rect x="433.0" y="506.25" width="12.4" height="33.75"/>
<rect x="433.0" y="567.5" width="12.4" height="35.5"/>
<rect x="453.3" y="506.25" width="12.4" height="33.75"/>
<rect x="453.3" y="567.5" width="12.4" height="35.5"/>
<rect x="473.55" y="506.25" width="12.4" height="33.75"/>
<rect x="473.55" y="567.5" width="12.4" height="35.5"/>
<rect x="494.0" y="506.25" width="12.4" height="33.75"/>
<rect x="494.0" y="567.5" width="12.4" height="35.5"/>
<rect x="386.06" y="624.54" width="9.27" height="7.51"/>
<rect x="386.06" y="639.56" width="9.27" height="7.51"/>
<rect x="544.6" y="538.18" width="10.51" height="15.77"/>
<rect x="566.38" y="538.18" width="10.77" height="15.77"/>
<rect x="583.91" y="595.26" width="11.26" height="15.03"/>
<rect x="413.85" y="620.03" width="9.52" height="33.8"/>
<rect x="413.85" y="703.91" width="9.52" height="35.05"/>
<rect x="433.63" y="620.03" width="9.52" height="33.8"/>
<rect x="433.63" y="703.91" width="9.52" height="35.05"/>
<rect x="453.66" y="620.03" width="9.52" height="33.8"/>
<rect x="453.66" y="703.91" width="9.52" height="35.05"/>
<rect x="473.69" y="620.03" width="9.52" height="33.8"/>
<rect x="473.69" y="703.91" width="9.52" height="35.05"/>
<rect x="518.31" y="620.03" width="9.51" height="33.8"/>
<rect x="518.31" y="703.91" width="9.51" height="35.05"/>
<rect x="538.59" y="620.03" width="9.51" height="33.8"/>
<rect x="538.59" y="703.91" width="9.51" height="35.05"/>
<rect x="558.87" y="703.91" width="9.51" height="35.05"/>
<rect x="580.15" y="620.03" width="9.51" height="33.8"/>
<rect x="580.15" y="703.91" width="9.51" height="35.05"/>
<rect x="499.23" y="630.05" width="8.77" height="6.25"/>
<rect x="499.23" y="644.57" width="8.77" height="6.76"/>
<rect x="395.33" y="714.67" width="9.26" height="7.51"/>
<rect x="395.33" y="728.19" width="11.26" height="7.01"/>
<rect x="498.73" y="726.44" width="10.02" height="7.51"/>
<rect x="498.73" y="741.46" width="10.02" height="7.51"/>
</g>
<g>
<circle cx="183.92" cy="16.78" r="6.3" fill="#b2b2b2" fill-opacity="0.68"/><circle cx="183.92" cy="16.78" r="2.9" fill="#efecef"/>
<circle cx="182.17" cy="94.64" r="6.3" fill="#b2b2b2" fill-opacity="0.68"/><circle cx="182.17" cy="94.64" r="2.9" fill="#efecef"/>
<circle cx="103.3" cy="38.81" r="6.3" fill="#b2b2b2" fill-opacity="0.68"/><circle cx="103.3" cy="38.81" r="2.9" fill="#efecef"/>
<circle cx="201.69" cy="95.89" r="6" fill="#b2b2b2" fill-opacity="0.68"/><circle cx="201.69" cy="95.89" r="3" fill="#efecef"/>
<circle cx="185.17" cy="123.94" r="6.3" fill="#b2b2b2" fill-opacity="0.68"/><circle cx="185.17" cy="123.94" r="2.9" fill="#efecef"/>
<circle cx="228.48" cy="123.94" r="6.3" fill="#b2b2b2" fill-opacity="0.68"/><circle cx="228.48" cy="123.94" r="2.9" fill="#efecef"/>
<circle cx="253.82" cy="26.79" r="6.3" fill="#b2b2b2" fill-opacity="0.68"/><circle cx="253.82" cy="26.79" r="2.9" fill="#efecef"/>
<circle cx="244.81" cy="37.56" r="6.3" fill="#b2b2b2" fill-opacity="0.68"/><circle cx="244.81" cy="37.56" r="2.9" fill="#efecef"/>
<circle cx="264.33" cy="155.73" r="5.5" fill="#b2b2b2" fill-opacity="0.68"/><circle cx="264.33" cy="155.73" r="2.6" fill="#efecef"/>
<circle cx="288.62" cy="180.77" r="6.3" fill="#b2b2b2" fill-opacity="0.68"/><circle cx="288.62" cy="180.77" r="2.9" fill="#efecef"/>
<circle cx="311.91" cy="200.3" r="6.3" fill="#b2b2b2" fill-opacity="0.68"/><circle cx="311.91" cy="200.3" r="2.9" fill="#efecef"/>
<circle cx="220.52" cy="172.76" r="5" fill="#b2b2b2" fill-opacity="0.68"/><circle cx="220.52" cy="172.76" r="3" fill="#efecef"/>
<circle cx="232.54" cy="172.76" r="5" fill="#b2b2b2" fill-opacity="0.68"/><circle cx="232.54" cy="172.76" r="3" fill="#efecef"/>
<circle cx="232.54" cy="184.78" r="5" fill="#b2b2b2" fill-opacity="0.68"/><circle cx="232.54" cy="184.78" r="3" fill="#efecef"/>
<circle cx="494.98" cy="60.84" r="5.5" fill="#b2b2b2" fill-opacity="0.68"/><circle cx="494.98" cy="60.84" r="2.8" fill="#efecef"/>
<circle cx="429.13" cy="134.7" r="5.5" fill="#b2b2b2" fill-opacity="0.68"/><circle cx="429.13" cy="134.7" r="2.8" fill="#efecef"/>
<circle cx="466.18" cy="135.7" r="6.3" fill="#b2b2b2" fill-opacity="0.68"/><circle cx="466.18" cy="135.7" r="2.9" fill="#efecef"/>
<circle cx="466.18" cy="161.49" r="6.3" fill="#b2b2b2" fill-opacity="0.68"/><circle cx="466.18" cy="161.49" r="2.9" fill="#efecef"/>
<circle cx="484.21" cy="135.7" r="6.3" fill="#b2b2b2" fill-opacity="0.68"/><circle cx="484.21" cy="135.7" r="2.9" fill="#efecef"/>
<circle cx="484.21" cy="161.49" r="6.3" fill="#b2b2b2" fill-opacity="0.68"/><circle cx="484.21" cy="161.49" r="2.9" fill="#efecef"/>
<circle cx="502.99" cy="135.7" r="6.3" fill="#b2b2b2" fill-opacity="0.68"/><circle cx="502.99" cy="135.7" r="2.9" fill="#efecef"/>
<circle cx="502.99" cy="161.49" r="6.3" fill="#b2b2b2" fill-opacity="0.68"/><circle cx="502.99" cy="161.49" r="2.9" fill="#efecef"/>
<circle cx="408.6" cy="148.97" r="6.3" fill="#b2b2b2" fill-opacity="0.68"/><circle cx="408.6" cy="148.97" r="2.9" fill="#efecef"/>
<circle cx="408.6" cy="192.79" r="6.3" fill="#b2b2b2" fill-opacity="0.68"/><circle cx="408.6" cy="192.79" r="2.9" fill="#efecef"/>
<circle cx="578.9" cy="113.92" r="7.8" fill="#b4b4b4" fill-opacity="0.68"/><circle cx="578.9" cy="113.92" r="4.4" fill="#efecef"/>
<circle cx="578.9" cy="133.95" r="7.8" fill="#b4b4b4" fill-opacity="0.68"/><circle cx="578.9" cy="133.95" r="4.4" fill="#efecef"/>
<circle cx="578.9" cy="153.98" r="7.8" fill="#b4b4b4" fill-opacity="0.68"/><circle cx="578.9" cy="153.98" r="4.4" fill="#efecef"/>
<circle cx="578.9" cy="174.01" r="7.8" fill="#b4b4b4" fill-opacity="0.68"/><circle cx="578.9" cy="174.01" r="4.4" fill="#efecef"/>
<circle cx="578.9" cy="194.04" r="7.8" fill="#b4b4b4" fill-opacity="0.68"/><circle cx="578.9" cy="194.04" r="4.4" fill="#efecef"/>
<circle cx="578.9" cy="214.07" r="7.8" fill="#b4b4b4" fill-opacity="0.68"/><circle cx="578.9" cy="214.07" r="4.4" fill="#efecef"/>
<circle cx="558.87" cy="133.95" r="5.5" fill="#b2b2b2" fill-opacity="0.68"/><circle cx="558.87" cy="133.95" r="2.8" fill="#efecef"/>
<circle cx="232.54" cy="248.06" r="4.8" fill="#b2b2b2" fill-opacity="0.68"/><circle cx="232.54" cy="248.06" r="3.4" fill="#efecef"/>
<circle cx="232.54" cy="259.32" r="4.8" fill="#b2b2b2" fill-opacity="0.68"/><circle cx="232.54" cy="259.32" r="3.4" fill="#efecef"/>
<circle cx="232.54" cy="270.84" r="4.8" fill="#b2b2b2" fill-opacity="0.68"/><circle cx="232.54" cy="270.84" r="3.4" fill="#efecef"/>
<circle cx="244.81" cy="388.27" r="4.6" fill="#b2b2b2" fill-opacity="0.68"/><circle cx="244.81" cy="388.27" r="2.6" fill="#efecef"/>
<circle cx="339.16" cy="208.66" r="5" fill="#b2b2b2" fill-opacity="0.68"/><circle cx="339.16" cy="208.66" r="3.6" fill="#efecef"/>
<circle cx="339.16" cy="220.06" r="5" fill="#b2b2b2" fill-opacity="0.68"/><circle cx="339.16" cy="220.06" r="3.6" fill="#efecef"/>
<circle cx="339.16" cy="231.07" r="5" fill="#b2b2b2" fill-opacity="0.68"/><circle cx="339.16" cy="231.07" r="3.6" fill="#efecef"/>
<circle cx="339.16" cy="247.21" r="5" fill="#b2b2b2" fill-opacity="0.68"/><circle cx="339.16" cy="247.21" r="3.6" fill="#efecef"/>
<circle cx="350.55" cy="247.21" r="5" fill="#b2b2b2" fill-opacity="0.68"/><circle cx="350.55" cy="247.21" r="3.6" fill="#efecef"/>
<circle cx="361.75" cy="247.21" r="5" fill="#b2b2b2" fill-opacity="0.68"/><circle cx="361.75" cy="247.21" r="3.6" fill="#efecef"/>
<circle cx="416.61" cy="298.13" r="6.3" fill="#b2b2b2" fill-opacity="0.68"/><circle cx="416.61" cy="298.13" r="2.9" fill="#efecef"/>
<circle cx="465.43" cy="298.13" r="6.3" fill="#b2b2b2" fill-opacity="0.68"/><circle cx="465.43" cy="298.13" r="2.9" fill="#efecef"/>
<circle cx="493.25" cy="217.5" r="7" fill="#b2b2b2" fill-opacity="0.68"/><circle cx="493.25" cy="217.5" r="4.2" fill="#efecef"/>
<circle cx="517.5" cy="217.5" r="7" fill="#b2b2b2" fill-opacity="0.68"/><circle cx="517.5" cy="217.5" r="4.2" fill="#efecef"/>
<circle cx="493.25" cy="241.25" r="7" fill="#b2b2b2" fill-opacity="0.68"/><circle cx="493.25" cy="241.25" r="4.2" fill="#efecef"/>
<circle cx="517.5" cy="241.25" r="7" fill="#b2b2b2" fill-opacity="0.68"/><circle cx="517.5" cy="241.25" r="4.2" fill="#efecef"/>
<circle cx="419.0" cy="355.0" r="7.5" fill="#b0b0b0" fill-opacity="0.68"/><circle cx="419.0" cy="355.0" r="4.4" fill="#efecef"/>
<circle cx="419.0" cy="401.25" r="7.5" fill="#b0b0b0" fill-opacity="0.68"/><circle cx="419.0" cy="401.25" r="4.4" fill="#efecef"/>
<circle cx="439.2" cy="355.0" r="7.5" fill="#b0b0b0" fill-opacity="0.68"/><circle cx="439.2" cy="355.0" r="4.4" fill="#efecef"/>
<circle cx="439.2" cy="401.25" r="7.5" fill="#b0b0b0" fill-opacity="0.68"/><circle cx="439.2" cy="401.25" r="4.4" fill="#efecef"/>
<circle cx="459.5" cy="355.0" r="7.5" fill="#b0b0b0" fill-opacity="0.68"/><circle cx="459.5" cy="355.0" r="4.4" fill="#efecef"/>
<circle cx="459.5" cy="401.25" r="7.5" fill="#b0b0b0" fill-opacity="0.68"/><circle cx="459.5" cy="401.25" r="4.4" fill="#efecef"/>
<circle cx="479.75" cy="355.0" r="7.5" fill="#b0b0b0" fill-opacity="0.68"/><circle cx="479.75" cy="355.0" r="4.4" fill="#efecef"/>
<circle cx="500.2" cy="355.0" r="7.5" fill="#b0b0b0" fill-opacity="0.68"/><circle cx="500.2" cy="355.0" r="4.4" fill="#efecef"/>
<circle cx="500.2" cy="401.25" r="7.5" fill="#b0b0b0" fill-opacity="0.68"/><circle cx="500.2" cy="401.25" r="4.4" fill="#efecef"/>
<circle cx="547.1" cy="295.13" r="6.3" fill="#b2b2b2" fill-opacity="0.68"/><circle cx="547.1" cy="295.13" r="2.9" fill="#efecef"/>
<circle cx="520.06" cy="321.42" r="6.3" fill="#b2b2b2" fill-opacity="0.68"/><circle cx="520.06" cy="321.42" r="2.9" fill="#efecef"/>
<circle cx="90.03" cy="553.45" r="5.6" fill="#c8c8c8" fill-opacity="0.6"/><circle cx="90.03" cy="553.45" r="2.6" fill="#efecef"/>
<circle cx="135.85" cy="553.45" r="5.6" fill="#c8c8c8" fill-opacity="0.6"/><circle cx="135.85" cy="553.45" r="2.6" fill="#efecef"/>
<circle cx="112.81" cy="565.97" r="5.6" fill="#c8c8c8" fill-opacity="0.6"/><circle cx="112.81" cy="565.97" r="2.6" fill="#efecef"/>
<circle cx="90.03" cy="578.24" r="5.6" fill="#c8c8c8" fill-opacity="0.6"/><circle cx="90.03" cy="578.24" r="2.6" fill="#efecef"/>
<circle cx="135.85" cy="578.24" r="5.6" fill="#c8c8c8" fill-opacity="0.6"/><circle cx="135.85" cy="578.24" r="2.6" fill="#efecef"/>
<circle cx="90.03" cy="689.63" r="5.6" fill="#c8c8c8" fill-opacity="0.6"/><circle cx="90.03" cy="689.63" r="2.6" fill="#efecef"/>
<circle cx="135.85" cy="689.63" r="5.6" fill="#c8c8c8" fill-opacity="0.6"/><circle cx="135.85" cy="689.63" r="2.6" fill="#efecef"/>
<circle cx="112.81" cy="702.15" r="5.6" fill="#c8c8c8" fill-opacity="0.6"/><circle cx="112.81" cy="702.15" r="2.6" fill="#efecef"/>
<circle cx="90.03" cy="714.42" r="5.6" fill="#c8c8c8" fill-opacity="0.6"/><circle cx="90.03" cy="714.42" r="2.6" fill="#efecef"/>
<circle cx="135.85" cy="714.42" r="5.6" fill="#c8c8c8" fill-opacity="0.6"/><circle cx="135.85" cy="714.42" r="2.6" fill="#efecef"/>
<circle cx="174.15" cy="543.18" r="5.6" fill="#b2b2b2" fill-opacity="0.68"/><circle cx="174.15" cy="543.18" r="2.8" fill="#efecef"/>
<circle cx="193.43" cy="567.72" r="5.2" fill="#d0b0b8" fill-opacity="0.68"/><circle cx="193.43" cy="567.72" r="2.6" fill="#efecef"/>
<circle cx="125.83" cy="615.52" r="6.5" fill="#b2b2b2" fill-opacity="0.68"/><circle cx="125.83" cy="615.52" r="3.3" fill="#efecef"/>
<circle cx="175.15" cy="608.76" r="6.3" fill="#b2b2b2" fill-opacity="0.68"/><circle cx="175.15" cy="608.76" r="2.9" fill="#efecef"/>
<circle cx="175.15" cy="633.8" r="6.3" fill="#b2b2b2" fill-opacity="0.68"/><circle cx="175.15" cy="633.8" r="2.9" fill="#efecef"/>
<circle cx="176.66" cy="659.34" r="5.4" fill="#b2b2b2" fill-opacity="0.68"/><circle cx="176.66" cy="659.34" r="2.6" fill="#efecef"/>
<circle cx="190.93" cy="696.39" r="6.5" fill="#b2b2b2" fill-opacity="0.68"/><circle cx="190.93" cy="696.39" r="3.3" fill="#efecef"/>
<circle cx="174.15" cy="741.46" r="5.6" fill="#b2b2b2" fill-opacity="0.68"/><circle cx="174.15" cy="741.46" r="2.8" fill="#efecef"/>
<circle cx="227.23" cy="692.64" r="5.6" fill="#b2b2b2" fill-opacity="0.68"/><circle cx="227.23" cy="692.64" r="2.8" fill="#efecef"/>
<circle cx="291.88" cy="587.63" r="6" fill="#b2b2b2" fill-opacity="0.68"/><circle cx="291.88" cy="587.63" r="3" fill="#efecef"/>
<circle cx="304.39" cy="567.6" r="6.3" fill="#b2b2b2" fill-opacity="0.68"/><circle cx="304.39" cy="567.6" r="2.9" fill="#efecef"/>
<circle cx="235.04" cy="556.33" r="6.5" fill="#b2b2b2" fill-opacity="0.68"/><circle cx="235.04" cy="556.33" r="3.3" fill="#efecef"/>
<circle cx="245.56" cy="571.86" r="5" fill="#b2b2b2" fill-opacity="0.68"/><circle cx="245.56" cy="571.86" r="2.6" fill="#efecef"/>
<circle cx="251.06" cy="536.81" r="5.6" fill="#b2b2b2" fill-opacity="0.68"/><circle cx="251.06" cy="536.81" r="2.8" fill="#efecef"/>
<circle cx="268.75" cy="674.5" r="6.3" fill="#b2b2b2" fill-opacity="0.68"/><circle cx="268.75" cy="674.5" r="2.9" fill="#efecef"/>
<circle cx="296.0" cy="674.5" r="6.3" fill="#b2b2b2" fill-opacity="0.68"/><circle cx="296.0" cy="674.5" r="2.9" fill="#efecef"/>
<circle cx="268.75" cy="692.5" r="6.3" fill="#b2b2b2" fill-opacity="0.68"/><circle cx="268.75" cy="692.5" r="2.9" fill="#efecef"/>
<circle cx="296.0" cy="692.5" r="6.3" fill="#b2b2b2" fill-opacity="0.68"/><circle cx="296.0" cy="692.5" r="2.9" fill="#efecef"/>
<circle cx="227.53" cy="692.59" r="5.6" fill="#b2b2b2" fill-opacity="0.68"/><circle cx="227.53" cy="692.59" r="2.8" fill="#efecef"/>
<circle cx="174.0" cy="800.0" r="5.6" fill="#b2b2b2" fill-opacity="0.68"/><circle cx="174.0" cy="800.0" r="2.8" fill="#efecef"/>
<circle cx="187.0" cy="800.0" r="5.6" fill="#b2b2b2" fill-opacity="0.68"/><circle cx="187.0" cy="800.0" r="2.8" fill="#efecef"/>
<circle cx="419.11" cy="438.28" r="5.6" fill="#b2b2b2" fill-opacity="0.68"/><circle cx="419.11" cy="438.28" r="2.8" fill="#efecef"/>
<circle cx="386.56" cy="467.07" r="5.6" fill="#b2b2b2" fill-opacity="0.68"/><circle cx="386.56" cy="467.07" r="2.8" fill="#efecef"/>
<circle cx="419.0" cy="532.2" r="7.5" fill="#b0b0b0" fill-opacity="0.68"/><circle cx="419.0" cy="532.2" r="4.4" fill="#efecef"/>
<circle cx="419.0" cy="578.5" r="7.5" fill="#b0b0b0" fill-opacity="0.68"/><circle cx="419.0" cy="578.5" r="4.4" fill="#efecef"/>
<circle cx="439.2" cy="532.2" r="7.5" fill="#b0b0b0" fill-opacity="0.68"/><circle cx="439.2" cy="532.2" r="4.4" fill="#efecef"/>
<circle cx="439.2" cy="578.5" r="7.5" fill="#b0b0b0" fill-opacity="0.68"/><circle cx="439.2" cy="578.5" r="4.4" fill="#efecef"/>
<circle cx="459.5" cy="532.2" r="7.5" fill="#b0b0b0" fill-opacity="0.68"/><circle cx="459.5" cy="532.2" r="4.4" fill="#efecef"/>
<circle cx="459.5" cy="578.5" r="7.5" fill="#b0b0b0" fill-opacity="0.68"/><circle cx="459.5" cy="578.5" r="4.4" fill="#efecef"/>
<circle cx="479.75" cy="532.2" r="7.5" fill="#b0b0b0" fill-opacity="0.68"/><circle cx="479.75" cy="532.2" r="4.4" fill="#efecef"/>
<circle cx="479.75" cy="578.5" r="7.5" fill="#b0b0b0" fill-opacity="0.68"/><circle cx="479.75" cy="578.5" r="4.4" fill="#efecef"/>
<circle cx="500.2" cy="532.2" r="7.5" fill="#b0b0b0" fill-opacity="0.68"/><circle cx="500.2" cy="532.2" r="4.4" fill="#efecef"/>
<circle cx="500.2" cy="578.5" r="7.5" fill="#b0b0b0" fill-opacity="0.68"/><circle cx="500.2" cy="578.5" r="4.4" fill="#efecef"/>
<circle cx="419.11" cy="597.27" r="6" fill="#b2b2b2" fill-opacity="0.68"/><circle cx="419.11" cy="597.27" r="3" fill="#efecef"/>
<circle cx="479.95" cy="597.27" r="6" fill="#b2b2b2" fill-opacity="0.68"/><circle cx="479.95" cy="597.27" r="3" fill="#efecef"/>
<circle cx="438.64" cy="599.77" r="7" fill="#b2b2b2" fill-opacity="0.68"/><circle cx="438.64" cy="599.77" r="4" fill="#efecef"/>
<circle cx="438.64" cy="626.56" r="7" fill="#b2b2b2" fill-opacity="0.68"/><circle cx="438.64" cy="626.56" r="4" fill="#efecef"/>
<circle cx="457.92" cy="599.77" r="7" fill="#b2b2b2" fill-opacity="0.68"/><circle cx="457.92" cy="599.77" r="4" fill="#efecef"/>
<circle cx="457.92" cy="626.56" r="7" fill="#b2b2b2" fill-opacity="0.68"/><circle cx="457.92" cy="626.56" r="4" fill="#efecef"/>
<circle cx="390.32" cy="612.29" r="5.6" fill="#b2b2b2" fill-opacity="0.68"/><circle cx="390.32" cy="612.29" r="2.8" fill="#efecef"/>
<circle cx="530.6" cy="429.9" r="6.5" fill="#b2b2b2" fill-opacity="0.68"/><circle cx="530.6" cy="429.9" r="3.3" fill="#efecef"/>
<circle cx="579.5" cy="429.3" r="6.5" fill="#b2b2b2" fill-opacity="0.68"/><circle cx="579.5" cy="429.3" r="3.3" fill="#efecef"/>
<circle cx="478.45" cy="638.06" r="6" fill="#b2b2b2" fill-opacity="0.68"/><circle cx="478.45" cy="638.06" r="3" fill="#efecef"/>
<circle cx="478.45" cy="721.43" r="6" fill="#b2b2b2" fill-opacity="0.68"/><circle cx="478.45" cy="721.43" r="3" fill="#efecef"/>
<circle cx="594.67" cy="638.06" r="5.6" fill="#b2b2b2" fill-opacity="0.68"/><circle cx="594.67" cy="638.06" r="2.8" fill="#efecef"/>
<circle cx="594.67" cy="727.69" r="5.6" fill="#b2b2b2" fill-opacity="0.68"/><circle cx="594.67" cy="727.69" r="2.8" fill="#efecef"/>
<circle cx="503.49" cy="624.29" r="5.6" fill="#b2b2b2" fill-opacity="0.68"/><circle cx="503.49" cy="624.29" r="2.8" fill="#efecef"/>
<circle cx="388.57" cy="731.45" r="5.6" fill="#b2b2b2" fill-opacity="0.68"/><circle cx="388.57" cy="731.45" r="2.8" fill="#efecef"/>
<circle cx="503.49" cy="761.49" r="5.6" fill="#b2b2b2" fill-opacity="0.68"/><circle cx="503.49" cy="761.49" r="2.8" fill="#efecef"/>
<circle cx="453.41" cy="763.24" r="6.3" fill="#b2b2b2" fill-opacity="0.68"/><circle cx="453.41" cy="763.24" r="2.9" fill="#efecef"/>
<circle cx="453.41" cy="790.79" r="6.3" fill="#b2b2b2" fill-opacity="0.68"/><circle cx="453.41" cy="790.79" r="2.9" fill="#efecef"/>
</g>
<circle cx="128.58" cy="128.69" r="9.8" fill="#ebebeb"/>
<circle cx="578.9" cy="113.92" r="9.2" fill="none" stroke="#e6e6e6" stroke-width="2.6" stroke-dasharray="5.2 2" />
<circle cx="128.2" cy="209" r="10.4" fill="#e6e6e6"/>
<circle cx="128.2" cy="289.5" r="10.4" fill="#e6e6e6"/>
<circle cx="128.5" cy="371.25" r="10.4" fill="#e2e2e6"/>
<rect x="473.5" y="391" width="12.5" height="36" fill="#2fe23a"/><circle cx="479.75" cy="401.25" r="8" fill="#2fe23a"/><circle cx="479.75" cy="401.25" r="4.4" fill="#dff5df"/>
<circle cx="395.3" cy="378" r="12" fill="#e9e9e9" stroke="#a2a2a2" stroke-width="2.6"/>
<circle cx="524.5" cy="378" r="11.3" fill="#e9e9e9" stroke="#a2a2a2" stroke-width="2.6"/>
<g fill="none" stroke="#2fe23a" stroke-width="2.4" stroke-linejoin="round" stroke-linecap="round"><polyline points="544.6,230.53 562.62,230.53 577.65,246.3 577.65,402.79 583.91,410.3"/><polyline points="479.75,390.27 479.75,384.01 485.01,379.0 503.79,379.0 530.08,409.05"/></g>
<rect x="543.85" y="228.28" width="19.5" height="4.6" fill="#2fe23a"/>
<circle cx="395.3" cy="554.5" r="12" fill="#e9e9e9" stroke="#a2a2a2" stroke-width="2.4"/>
<circle cx="524.5" cy="555" r="10.2" fill="#e9e9e9" stroke="#a2a2a2" stroke-width="2.4"/>
<polyline fill="none" stroke="#2fe23a" stroke-width="2.4" stroke-linejoin="round" points="579.65,428.76 583.15,435.02 583.15,568.22 557.62,595.76 557.62,615.29 566.38,623.3 566.38,635.32"/>
<circle cx="530.6" cy="412.4" r="5.6" fill="#dff5df" stroke="#2fe23a" stroke-width="3.2"/>
<circle cx="583.9" cy="412.4" r="5.6" fill="#dff5df" stroke="#2fe23a" stroke-width="3.2"/>
<line x1="536" y1="412.6" x2="579" y2="412.6" stroke="#2fe23a" stroke-width="2.4"/>
<rect x="562.12" y="595.26" width="11" height="15" fill="#2fe23a"/>
<rect x="559.37" y="621.28" width="8.5" height="32.5" fill="#2fe23a"/>
<g fill="none" stroke="#000" stroke-linecap="round" stroke-linejoin="round" opacity=".72">
<polyline points="128.58,113.17 128.58,128.69" stroke-width="0.8" fill="none"/>
<polyline points="128.58,128.69 136.1,128.69" stroke-width="0.8" fill="none"/>
<polygon points="128.58,126.29 130.98,128.69 128.58,131.09 126.18,128.69" stroke-width="0.8"/>
<polyline points="77.0,90.5 190.2,90.5 190.2,405.3 77.0,405.3" stroke-width="3.9" fill="none"/>
<rect x="92.03" y="43.82" width="50.08" height="35.05" stroke-width="3"/>
<polygon points="102.8,48.63 105.0,50.83 102.8,53.03 100.6,50.83" stroke-width="0.8"/>
<polygon points="159.13,50.53 162.43,53.83 159.13,57.13 155.83,53.83" stroke-width="0.8"/>
<rect x="157.97" y="51.19" width="2.31" height="5.28" fill="#000" stroke="none"/>
<polygon points="179.66,50.53 182.96,53.83 179.66,57.13 176.36,53.83" stroke-width="0.8"/>
<rect x="178.5" y="51.19" width="2.31" height="5.28" fill="#000" stroke="none"/>
<polygon points="200.19,64.8 203.49,68.1 200.19,71.4 196.89,68.1" stroke-width="0.8"/>
<rect x="199.03" y="65.46" width="2.31" height="5.28" fill="#000" stroke="none"/>
<polygon points="220.97,64.8 224.27,68.1 220.97,71.4 217.67,68.1" stroke-width="0.8"/>
<rect x="219.81" y="65.46" width="2.31" height="5.28" fill="#000" stroke="none"/>
<polygon points="208.96,121.14 212.26,124.44 208.96,127.74 205.66,124.44" stroke-width="0.8"/>
<rect x="207.81" y="121.8" width="2.31" height="5.28" fill="#000" stroke="none"/>
<polygon points="277.35,23.49 280.65,26.79 277.35,30.09 274.05,26.79" stroke-width="0.8"/>
<rect x="276.2" y="24.15" width="2.31" height="5.28" fill="#000" stroke="none"/>
<rect x="234.29" y="38.81" width="52.58" height="58.84" stroke-width="3.4"/>
<polygon points="276.1,49.48 278.7,52.08 276.1,54.68 273.5,52.08" stroke-width="0.8"/>
<polygon points="268.09,104.86 271.39,108.16 268.09,111.46 264.79,108.16" stroke-width="0.8"/>
<rect x="266.94" y="105.52" width="2.31" height="5.28" fill="#000" stroke="none"/>
<polygon points="319.92,129.4 323.22,132.7 319.92,136.0 316.62,132.7" stroke-width="0.8"/>
<rect x="318.77" y="130.06" width="2.31" height="5.28" fill="#000" stroke="none"/>
<polygon points="319.92,168.71 323.22,172.01 319.92,175.31 316.62,172.01" stroke-width="0.8"/>
<rect x="318.77" y="169.37" width="2.31" height="5.28" fill="#000" stroke="none"/>
<path d="M261.08,210.07 L261.08,120.18 L306.9,120.18 L306.9,174.01 A10,10 0 0 0 306.9,194.04 L306.9,210.07" stroke-width="3.6" fill="none"/>
<polygon points="284.36,181.83 286.56,184.03 284.36,186.23 282.16,184.03" stroke-width="0.8"/>
<polygon points="455.42,36.76 458.72,40.06 455.42,43.36 452.12,40.06" stroke-width="0.8"/>
<rect x="454.27" y="37.42" width="2.31" height="5.28" fill="#000" stroke="none"/>
<polygon points="491.72,37.26 494.52,40.06 491.72,42.86 488.92,40.06" stroke-width="0.8"/>
<polygon points="453.16,61.8 455.96,64.6 453.16,67.4 450.36,64.6" stroke-width="0.8"/>
<polygon points="453.16,91.09 455.96,93.89 453.16,96.69 450.36,93.89" stroke-width="0.8"/>
<polygon points="439.14,116.38 442.44,119.68 439.14,122.98 435.84,119.68" stroke-width="0.8"/>
<rect x="437.99" y="117.04" width="2.31" height="5.28" fill="#000" stroke="none"/>
<polygon points="494.98,83.08 498.28,86.38 494.98,89.68 491.68,86.38" stroke-width="0.8"/>
<rect x="493.83" y="83.74" width="2.31" height="5.28" fill="#000" stroke="none"/>
<polyline points="457.92,191.54 457.92,182.77 465.43,182.77" stroke-width="1.4" fill="none"/>
<polygon points="488.72,18.03 492.22,15.52 495.73,20.03 492.22,22.53" fill="#000" stroke-width="1"/>
<polyline points="494.23,21.28 489.22,28.04" stroke-width="1.4" fill="none"/>
<polygon points="531.83,91.84 535.13,95.14 531.83,98.44 528.53,95.14" stroke-width="0.8"/>
<rect x="530.68" y="92.5" width="2.31" height="5.28" fill="#000" stroke="none"/>
<polygon points="535.58,131.65 538.38,134.45 535.58,137.25 532.78,134.45" stroke-width="0.8"/>
<polyline points="537.59,199.05 546.35,184.03" stroke-width="2.2" fill="none"/>
<polyline points="546.35,184.03 553.11,191.54" stroke-width="1.6" fill="none"/>
<polyline points="88.5,289.5 103.0,289.5" stroke-width="2.2" fill="none"/>
<polyline points="95.8,282.0 95.8,297.0" stroke-width="2.2" fill="none"/>
<polyline points="95.79,361.98 95.79,377.25" stroke-width="3" fill="none"/>
<path d="M208.0,211.25 L250.56,211.25 L255.57,215.51 L255.57,222.52 L208.0,222.52 Z" stroke-width="3" fill="none"/>
<polygon points="232.29,213.61 234.69,216.01 232.29,218.41 229.89,216.01" stroke-width="0.8"/>
<polyline points="261.08,208.75 261.08,247.56 306.9,247.56 306.9,208.75" stroke-width="3.6" fill="none"/>
<polyline points="261.83,291.37 261.83,337.69" stroke-width="3.6" fill="none"/>
<polyline points="294.38,291.37 294.38,337.69" stroke-width="3.6" fill="none"/>
<polyline points="261.83,325.67 294.38,325.67" stroke-width="3.6" fill="none"/>
<polygon points="278.11,311.11 280.91,313.91 278.11,316.71 275.31,313.91" stroke-width="0.8"/>
<polygon points="263.58,374.95 266.88,378.25 263.58,381.55 260.28,378.25" stroke-width="0.8"/>
<rect x="262.43" y="375.61" width="2.31" height="5.28" fill="#000" stroke="none"/>
<polygon points="287.62,374.95 290.92,378.25 287.62,381.55 284.32,378.25" stroke-width="0.8"/>
<rect x="286.47" y="375.61" width="2.31" height="5.28" fill="#000" stroke="none"/>
<polygon points="234.29,385.47 237.09,388.27 234.29,391.07 231.49,388.27" stroke-width="0.8"/>
<polyline points="219.27,378.25 219.27,397.78" stroke-width="2" fill="none"/>
<polyline points="248.56,378.25 248.56,397.78" stroke-width="2" fill="none"/>
<path d="M346.18,193.09 L414.54,193.09 L424.04,197.84 L424.04,233.92 L414.54,238.67 L346.18,238.67 Z" stroke-width="3.4" fill="none"/>
<polygon points="415.49,193.47 424.42,197.46 424.42,234.3 415.49,238.29 417.39,232.97 417.39,198.79" fill="#000" stroke-width="1"/>
<polygon points="381.88,213.26 384.88,216.26 381.88,219.26 378.88,216.26" stroke-width="0.8"/>
<rect x="318.65" y="242.08" width="94.0" height="82.99" stroke-width="3.6"/>
<polygon points="365.17,281.24 368.17,284.24 365.17,287.24 362.17,284.24" stroke-width="0.8"/>
<path d="M407.52,305.13 L430.12,305.13 L416.82,326.02 Z" stroke-width="3" fill="none"/>
<polygon points="505.0,228.7 506.8,230.5 505.0,232.3 503.2,230.5" stroke-width="0.8"/>
<polyline points="457.5,191.5 457.5,183.0 465.5,183.0" stroke-width="1.4" fill="none"/>
<polyline points="457.75,270.0 457.75,278.75 465.5,278.75" stroke-width="1.4" fill="none"/>
<polyline points="552.5,270.0 552.5,278.0 545.0,278.0" stroke-width="1.4" fill="none"/>
<rect x="382.75" y="327.5" width="154.25" height="101.8" stroke-width="1.4"/>
<polyline points="459.67,362.73 459.67,378.25" stroke-width="1" fill="none"/>
<polyline points="459.67,378.25 467.94,378.25" stroke-width="1" fill="none"/>
<polygon points="459.67,375.65 462.27,378.25 459.67,380.85 457.07,378.25" stroke-width="0.8"/>
<polygon points="487.97,296.28 490.57,298.88 487.97,301.48 485.37,298.88" stroke-width="0.8"/>
<polyline points="78.0,587.5 88.25,587.5 88.25,610.0 112.0,610.0 112.0,658.0 88.25,658.0 88.25,679.5 78.0,679.5" stroke-width="1.3" fill="none"/>
<polyline points="144.5,571.75 159.5,571.75 159.5,633.75" stroke-width="1.3" fill="none"/>
<polyline points="159.5,665.5 159.5,695.5 145.0,695.5" stroke-width="1.3" fill="none"/>
<polyline points="159.13,633.8 167.64,633.8" stroke-width="1" fill="none"/>
<polygon points="159.13,631.0 161.93,633.8 159.13,636.6 156.33,633.8" stroke-width="0.8"/>
<polygon points="174.15,569.43 177.45,572.73 174.15,576.03 170.85,572.73" stroke-width="0.8"/>
<rect x="173.0" y="570.09" width="2.31" height="5.28" fill="#000" stroke="none"/>
<polyline points="202.2,523.15 197.94,527.66 197.94,556.45" stroke-width="1.2" fill="none"/>
<rect x="184.5" y="559.25" width="30.0" height="97.75" stroke-width="1.4"/>
<polygon points="193.25,582.4 195.85,585.0 193.25,587.6 190.65,585.0" stroke-width="0.8"/>
<polygon points="206.5,582.4 209.1,585.0 206.5,587.6 203.9,585.0" stroke-width="0.8"/>
<polygon points="197.75,606.15 200.35,608.75 197.75,611.35 195.15,608.75" stroke-width="0.8"/>
<polygon points="197.75,621.4 200.35,624.0 197.75,626.6 195.15,624.0" stroke-width="0.8"/>
<polygon points="193.25,642.9 195.85,645.5 193.25,648.1 190.65,645.5" stroke-width="0.8"/>
<polygon points="206.5,642.9 209.1,645.5 206.5,648.1 203.9,645.5" stroke-width="0.8"/>
<polygon points="199.69,709.87 202.99,713.17 199.69,716.47 196.39,713.17" stroke-width="0.8"/>
<rect x="198.53" y="710.53" width="2.31" height="5.28" fill="#000" stroke="none"/>
<polygon points="174.15,720.38 176.95,723.18 174.15,725.98 171.35,723.18" stroke-width="0.8"/>
<polygon points="227.23,669.31 230.03,672.11 227.23,674.91 224.43,672.11" stroke-width="0.8"/>
<rect x="216.01" y="576.36" width="80.12" height="80.88" stroke-width="3.9"/>
<polyline points="296.13,576.36 302.64,570.11" stroke-width="3" fill="none"/>
<polygon points="255.57,614.53 257.97,616.93 255.57,619.33 253.17,616.93" stroke-width="0.8"/>
<polygon points="274.85,534.01 277.65,536.81 274.85,539.61 272.05,536.81" stroke-width="0.8"/>
<polygon points="274.85,555.54 278.15,558.84 274.85,562.14 271.55,558.84" stroke-width="0.8"/>
<rect x="273.7" y="556.2" width="2.31" height="5.28" fill="#000" stroke="none"/>
<polygon points="268.84,719.84 272.14,723.14 268.84,726.44 265.54,723.14" stroke-width="0.8"/>
<rect x="267.69" y="720.5" width="2.31" height="5.28" fill="#000" stroke="none"/>
<polygon points="227.53,668.51 230.33,671.31 227.53,674.11 224.73,671.31" stroke-width="0.8"/>
<path d="M257,777.4 H183.7 V822.5 H257" stroke-width="3" fill="none"/>
<polygon points="252,776 258,776 262,780 262,820 258,824 252,824" fill="#000" stroke-width="1"/>
<polygon points="218.75,797.0 221.75,800.0 218.75,803.0 215.75,800.0" stroke-width="0.8"/>
<polygon points="449.91,439.73 453.21,443.03 449.91,446.33 446.61,443.03" stroke-width="0.8"/>
<rect x="448.76" y="440.39" width="2.31" height="5.28" fill="#000" stroke="none"/>
<polygon points="410.35,464.27 413.15,467.07 410.35,469.87 407.55,467.07" stroke-width="0.8"/>
<path d="M408.6,481.34 L429.63,481.34 L418.61,502.62 Z" stroke-width="3.4" fill="none"/>
<rect x="382.8" y="505.1" width="154.4" height="100.7" stroke-width="1.4"/>
<polyline points="459.67,539.68 459.67,555.2" stroke-width="1" fill="none"/>
<polyline points="459.67,555.2 467.94,555.2" stroke-width="1" fill="none"/>
<polygon points="459.67,552.6 462.27,555.2 459.67,557.8 457.07,555.2" stroke-width="0.8"/>
<polygon points="390.32,632.75 393.12,635.55 390.32,638.35 387.52,635.55" stroke-width="0.8"/>
<polygon points="560.62,543.14 563.92,546.44 560.62,549.74 557.32,546.44" stroke-width="0.8"/>
<rect x="559.47" y="543.8" width="2.31" height="5.28" fill="#000" stroke="none"/>
<polygon points="578.15,599.47 581.45,602.77 578.15,606.07 574.85,602.77" stroke-width="0.8"/>
<rect x="577.0" y="600.13" width="2.31" height="5.28" fill="#000" stroke="none"/>
<path d="M409.6,669.24 V616.27 H486.71 V742.21 H409.6 V689.24 A10,10 0 0 0 409.6,669.24" stroke-width="3" fill="none"/>
<path d="M515.05,669.62 V617.03 H592.67 V742.21 H515.05 V689.62 A10,10 0 0 0 515.05,669.62" stroke-width="3" fill="none"/>
<polygon points="447.91,676.62 450.91,679.62 447.91,682.62 444.91,679.62" stroke-width="0.8"/>
<polygon points="553.11,676.62 556.11,679.62 553.11,682.62 550.11,679.62" stroke-width="0.8"/>
<polygon points="503.49,637.76 506.29,640.56 503.49,643.36 500.69,640.56" stroke-width="0.8"/>
<polygon points="401.09,722.39 403.89,725.19 401.09,727.99 398.29,725.19" stroke-width="0.8"/>
<polygon points="503.49,734.91 506.29,737.71 503.49,740.51 500.69,737.71" stroke-width="0.8"/>
</g>
<g>
<text x="12" y="385.3" font-size="21.5" fill="#f00000" font-family="DejaVu Sans, Liberation Sans, sans-serif">ESD -&gt;</text>
<text transform="translate(95.03 123.18) rotate(90) scale(0.7 1)" font-size="22" text-anchor="middle" dominant-baseline="central" fill="#000" fill-opacity="0.92" font-weight="200" stroke="#000" stroke-width="0.45" stroke-opacity=".8">DO</text>
<text transform="translate(89.03 42.56) rotate(0) scale(1 1)" font-size="12" text-anchor="middle" dominant-baseline="central" fill="#000" fill-opacity="0.92" font-weight="200" stroke="#000" stroke-width="0.45" stroke-opacity=".8">*</text>
<text transform="translate(134.59 30.55) rotate(90) scale(0.8 1)" font-size="13.5" text-anchor="middle" dominant-baseline="central" fill="#000" fill-opacity="0.92" font-weight="200" stroke="#000" stroke-width="0.45" stroke-opacity=".8">U3</text>
<text transform="translate(158.38 25.04) rotate(90) scale(0.85 1)" font-size="15" text-anchor="middle" dominant-baseline="central" fill="#000" fill-opacity="0.92" font-weight="200" stroke="#000" stroke-width="0.45" stroke-opacity=".8">R2</text>
<text transform="translate(175.91 80.12) rotate(90) scale(0.85 1)" font-size="15" text-anchor="middle" dominant-baseline="central" fill="#000" fill-opacity="0.92" font-weight="200" stroke="#000" stroke-width="0.45" stroke-opacity=".8">R3</text>
<text transform="translate(200.94 39.56) rotate(90) scale(0.85 1)" font-size="15" text-anchor="middle" dominant-baseline="central" fill="#000" fill-opacity="0.92" font-weight="200" stroke="#000" stroke-width="0.45" stroke-opacity=".8">R4</text>
<text transform="translate(220.97 38.81) rotate(90) scale(0.85 1)" font-size="15" text-anchor="middle" dominant-baseline="central" fill="#000" fill-opacity="0.92" font-weight="200" stroke="#000" stroke-width="0.45" stroke-opacity=".8">R5</text>
<text transform="translate(223.48 143.97) rotate(90) scale(0.85 1)" font-size="15" text-anchor="middle" dominant-baseline="central" fill="#000" fill-opacity="0.92" font-weight="200" stroke="#000" stroke-width="0.45" stroke-opacity=".8">R1</text>
<text transform="translate(304.39 26.29) rotate(90) scale(0.85 1)" font-size="15" text-anchor="middle" dominant-baseline="central" fill="#000" fill-opacity="0.92" font-weight="200" stroke="#000" stroke-width="0.45" stroke-opacity=".8">R9</text>
<text transform="translate(299.39 53.08) rotate(90) scale(0.85 1)" font-size="15" text-anchor="middle" dominant-baseline="central" fill="#000" fill-opacity="0.92" font-weight="200" stroke="#000" stroke-width="0.45" stroke-opacity=".8">Q1</text>
<text transform="translate(296.88 99.4) rotate(90) scale(0.85 1)" font-size="15" text-anchor="middle" dominant-baseline="central" fill="#000" fill-opacity="0.92" font-weight="200" stroke="#000" stroke-width="0.45" stroke-opacity=".8">R8</text>
<text transform="translate(336.94 133.2) rotate(90) scale(0.85 1)" font-size="15" text-anchor="middle" dominant-baseline="central" fill="#000" fill-opacity="0.92" font-weight="200" stroke="#000" stroke-width="0.45" stroke-opacity=".8">R6</text>
<text transform="translate(336.94 173.51) rotate(90) scale(0.85 1)" font-size="15" text-anchor="middle" dominant-baseline="central" fill="#000" fill-opacity="0.92" font-weight="200" stroke="#000" stroke-width="0.45" stroke-opacity=".8">R7</text>
<text transform="translate(363.73 160.49) rotate(0) scale(0.8 1)" font-size="5.6" text-anchor="middle" dominant-baseline="central" fill="#000" fill-opacity="0.75" font-weight="400">BUT</text>
<text transform="translate(363.73 167.63) rotate(0) scale(0.8 1)" font-size="5.6" text-anchor="middle" dominant-baseline="central" fill="#000" fill-opacity="0.75" font-weight="400">BUT</text>
<text transform="translate(363.73 174.76) rotate(0) scale(0.8 1)" font-size="5.6" text-anchor="middle" dominant-baseline="central" fill="#000" fill-opacity="0.75" font-weight="400">BUK</text>
<text transform="translate(363.73 181.9) rotate(0) scale(0.8 1)" font-size="5.6" text-anchor="middle" dominant-baseline="central" fill="#000" fill-opacity="0.75" font-weight="400">BUK</text>
<text transform="translate(454.17 22.03) rotate(90) scale(0.85 1)" font-size="10" text-anchor="middle" dominant-baseline="central" fill="#000" fill-opacity="0.92" font-weight="200" stroke="#000" stroke-width="0.45" stroke-opacity=".8">R18</text>
<text transform="translate(503.74 23.28) rotate(90) scale(0.85 1)" font-size="10.5" text-anchor="middle" dominant-baseline="central" fill="#000" fill-opacity="0.92" font-weight="200" stroke="#000" stroke-width="0.45" stroke-opacity=".8">D1</text>
<text transform="translate(416.61 63.09) rotate(90) scale(0.85 1)" font-size="17" text-anchor="middle" dominant-baseline="central" fill="#000" fill-opacity="0.92" font-weight="200" stroke="#000" stroke-width="0.45" stroke-opacity=".8">J1</text>
<text transform="translate(416.61 93.89) rotate(90) scale(0.85 1)" font-size="17" text-anchor="middle" dominant-baseline="central" fill="#000" fill-opacity="0.75" font-weight="400">J2</text>
<text transform="translate(414.61 118.18) rotate(90) scale(0.85 1)" font-size="10" text-anchor="middle" dominant-baseline="central" fill="#000" fill-opacity="0.92" font-weight="200" stroke="#000" stroke-width="0.45" stroke-opacity=".8">R16</text>
<text transform="translate(497.23 114.67) rotate(90) scale(0.85 1)" font-size="10.5" text-anchor="middle" dominant-baseline="central" fill="#000" fill-opacity="0.92" font-weight="200" stroke="#000" stroke-width="0.45" stroke-opacity=".8">R17</text>
<text transform="translate(417.86 180.77) rotate(90) scale(0.8 1)" font-size="15" text-anchor="middle" dominant-baseline="central" fill="#000" fill-opacity="0.92" font-weight="200" stroke="#000" stroke-width="0.45" stroke-opacity=".8">C3</text>
<text transform="translate(550.11 95.14) rotate(90) scale(0.85 1)" font-size="10.5" text-anchor="middle" dominant-baseline="central" fill="#000" fill-opacity="0.75" font-weight="400">R11</text>
<text transform="translate(541.34 150.23) rotate(90) scale(0.85 1)" font-size="10" text-anchor="middle" dominant-baseline="central" fill="#000" fill-opacity="0.75" font-weight="400">C10</text>
<text transform="translate(556.36 175.26) rotate(90) scale(0.85 1)" font-size="15" text-anchor="middle" dominant-baseline="central" fill="#000" fill-opacity="0.92" font-weight="200" stroke="#000" stroke-width="0.45" stroke-opacity=".8">U1</text>
<text transform="translate(95.0 204.0) rotate(90) scale(0.7 1)" font-size="22" text-anchor="middle" dominant-baseline="central" fill="#000" fill-opacity="0.92" font-weight="200" stroke="#000" stroke-width="0.45" stroke-opacity=".8">DI</text>
<text transform="translate(203.45 382.26) rotate(90) scale(0.8 1)" font-size="14.5" text-anchor="middle" dominant-baseline="central" fill="#000" fill-opacity="0.92" font-weight="200" stroke="#000" stroke-width="0.45" stroke-opacity=".8">CONN1</text>
<text transform="translate(251.06 258.82) rotate(90) scale(0.85 1)" font-size="15" text-anchor="middle" dominant-baseline="central" fill="#000" fill-opacity="0.92" font-weight="200" stroke="#000" stroke-width="0.45" stroke-opacity=".8">U4</text>
<text transform="translate(298.64 260.08) rotate(90) scale(0.85 1)" font-size="15" text-anchor="middle" dominant-baseline="central" fill="#000" fill-opacity="0.92" font-weight="200" stroke="#000" stroke-width="0.45" stroke-opacity=".8">U2</text>
<text transform="translate(303.14 311.4) rotate(90) scale(0.85 1)" font-size="15" text-anchor="middle" dominant-baseline="central" fill="#000" fill-opacity="0.92" font-weight="200" stroke="#000" stroke-width="0.45" stroke-opacity=".8">D2</text>
<text transform="translate(221.77 346.45) rotate(90) scale(0.8 1)" font-size="15" text-anchor="middle" dominant-baseline="central" fill="#000" fill-opacity="0.92" font-weight="200" stroke="#000" stroke-width="0.45" stroke-opacity=".8">C2</text>
<text transform="translate(262.58 409.05) rotate(90) scale(0.8 1)" font-size="15" text-anchor="middle" dominant-baseline="central" fill="#000" fill-opacity="0.92" font-weight="200" stroke="#000" stroke-width="0.45" stroke-opacity=".8">C1</text>
<text transform="translate(287.62 407.8) rotate(90) scale(0.85 1)" font-size="15" text-anchor="middle" dominant-baseline="central" fill="#000" fill-opacity="0.92" font-weight="200" stroke="#000" stroke-width="0.45" stroke-opacity=".8">L1</text>
<text transform="translate(424.42 257.66) rotate(90) scale(0.85 1)" font-size="15" text-anchor="middle" dominant-baseline="central" fill="#000" fill-opacity="0.92" font-weight="200" stroke="#000" stroke-width="0.45" stroke-opacity=".8">U5</text>
<text transform="translate(374.0 408.0) rotate(90) scale(0.78 1)" font-size="15" text-anchor="middle" dominant-baseline="central" fill="#000" fill-opacity="0.92" font-weight="200" stroke="#000" stroke-width="0.45" stroke-opacity=".8">CONN3</text>
<text transform="translate(487.97 313.15) rotate(90) scale(0.85 1)" font-size="10" text-anchor="middle" dominant-baseline="central" fill="#000" fill-opacity="0.75" font-weight="400">C9</text>
<text transform="translate(89.03 750.98) rotate(90) scale(0.8 1)" font-size="15" text-anchor="middle" dominant-baseline="central" fill="#000" fill-opacity="0.92" font-weight="200" stroke="#000" stroke-width="0.45" stroke-opacity=".8">CONN2</text>
<text transform="translate(157.88 556.96) rotate(90) scale(0.85 1)" font-size="10" text-anchor="middle" dominant-baseline="central" fill="#000" fill-opacity="0.75" font-weight="400">C20</text>
<text transform="translate(220.97 502.62) rotate(90) scale(0.85 1)" font-size="10" text-anchor="middle" dominant-baseline="central" fill="#000" fill-opacity="0.75" font-weight="400">C18</text>
<text transform="translate(204.2 500.62) rotate(90) scale(0.85 1)" font-size="9.5" text-anchor="middle" dominant-baseline="central" fill="#000" fill-opacity="0.75" font-weight="400">Z1</text>
<text transform="translate(210.46 516.39) rotate(90) scale(0.85 1)" font-size="10.5" text-anchor="middle" dominant-baseline="central" fill="#000" fill-opacity="0.75" font-weight="400">R16</text>
<text transform="translate(210.46 533.92) rotate(90) scale(0.85 1)" font-size="10.5" text-anchor="middle" dominant-baseline="central" fill="#000" fill-opacity="0.75" font-weight="400">R17</text>
<text transform="translate(204.2 550.2) rotate(90) scale(0.85 1)" font-size="9.5" text-anchor="middle" dominant-baseline="central" fill="#000" fill-opacity="0.75" font-weight="400">Z2</text>
<text transform="translate(217.97 551.45) rotate(90) scale(0.85 1)" font-size="10.5" text-anchor="middle" dominant-baseline="central" fill="#000" fill-opacity="0.75" font-weight="400">C19</text>
<text transform="translate(200.19 729.69) rotate(90) scale(0.85 1)" font-size="11" text-anchor="middle" dominant-baseline="central" fill="#000" fill-opacity="0.75" font-weight="400">L2</text>
<text transform="translate(160.13 722.68) rotate(90) scale(0.85 1)" font-size="10" text-anchor="middle" dominant-baseline="central" fill="#000" fill-opacity="0.75" font-weight="400">Z3</text>
<text transform="translate(238.5 675.11) rotate(90) scale(0.85 1)" font-size="11" text-anchor="middle" dominant-baseline="central" fill="#000" fill-opacity="0.75" font-weight="400">C17</text>
<text transform="translate(273.6 522.53) rotate(90) scale(0.85 1)" font-size="10" text-anchor="middle" dominant-baseline="central" fill="#000" fill-opacity="0.75" font-weight="400">C16</text>
<text transform="translate(296.88 547.57) rotate(90) scale(0.85 1)" font-size="10.5" text-anchor="middle" dominant-baseline="central" fill="#000" fill-opacity="0.75" font-weight="400">R14</text>
<text transform="translate(307.65 586.88) rotate(90) scale(0.85 1)" font-size="9" text-anchor="middle" dominant-baseline="central" fill="#000" fill-opacity="0.75" font-weight="400">U6</text>
<text transform="translate(286.37 724.64) rotate(90) scale(0.85 1)" font-size="10.5" text-anchor="middle" dominant-baseline="central" fill="#000" fill-opacity="0.75" font-weight="400">R15</text>
<text transform="translate(220.0 765.0) rotate(90) scale(0.8 1)" font-size="13.5" text-anchor="middle" dominant-baseline="central" fill="#000" fill-opacity="0.92" font-weight="200" stroke="#000" stroke-width="0.45" stroke-opacity=".8">C21</text>
<text transform="translate(449.16 463.82) rotate(90) scale(0.85 1)" font-size="10" text-anchor="middle" dominant-baseline="central" fill="#000" fill-opacity="0.75" font-weight="400">R10</text>
<text transform="translate(405.34 450.55) rotate(90) scale(0.85 1)" font-size="10" text-anchor="middle" dominant-baseline="central" fill="#000" fill-opacity="0.75" font-weight="400">C11</text>
<text transform="translate(371.54 584.0) rotate(90) scale(0.78 1)" font-size="15" text-anchor="middle" dominant-baseline="central" fill="#000" fill-opacity="0.92" font-weight="200" stroke="#000" stroke-width="0.45" stroke-opacity=".8">CONN4</text>
<text transform="translate(376.55 635.05) rotate(90) scale(0.85 1)" font-size="10" text-anchor="middle" dominant-baseline="central" fill="#000" fill-opacity="0.75" font-weight="400">C13</text>
<text transform="translate(561.37 526.41) rotate(90) scale(0.85 1)" font-size="10.5" text-anchor="middle" dominant-baseline="central" fill="#000" fill-opacity="0.75" font-weight="400">R12</text>
<text transform="translate(578.15 585.75) rotate(90) scale(0.85 1)" font-size="10.5" text-anchor="middle" dominant-baseline="central" fill="#000" fill-opacity="0.75" font-weight="400">R13</text>
<text transform="translate(401.09 678.12) rotate(90) scale(0.85 1)" font-size="9" text-anchor="middle" dominant-baseline="central" fill="#000" fill-opacity="0.75" font-weight="400">U8</text>
<text transform="translate(506.74 678.87) rotate(90) scale(0.85 1)" font-size="10" text-anchor="middle" dominant-baseline="central" fill="#000" fill-opacity="0.75" font-weight="400">U7</text>
<text transform="translate(491.72 641.31) rotate(90) scale(0.85 1)" font-size="10" text-anchor="middle" dominant-baseline="central" fill="#000" fill-opacity="0.75" font-weight="400">C12</text>
<text transform="translate(387.06 713.17) rotate(90) scale(0.85 1)" font-size="11" text-anchor="middle" dominant-baseline="central" fill="#000" fill-opacity="0.75" font-weight="400">C15</text>
<text transform="translate(503.49 715.17) rotate(90) scale(0.85 1)" font-size="11" text-anchor="middle" dominant-baseline="central" fill="#000" fill-opacity="0.75" font-weight="400">C14</text>
</g>
<circle cx="342.5" cy="58.2" r="24" fill="none" stroke="#c6c6c6" stroke-width="1.9"/>
<circle cx="562.6" cy="43.7" r="24" fill="none" stroke="#c6c6c6" stroke-width="1.9"/>
<circle cx="121.3" cy="797" r="24" fill="none" stroke="#c6c6c6" stroke-width="1.9"/>
<circle cx="342.5" cy="784" r="24" fill="none" stroke="#c6c6c6" stroke-width="1.9"/>
<rect x="72" y="347.8" width="541" height="1" fill="#b455f0" opacity=".9"/>
<rect x="72" y="347.8" width="21" height="1" fill="#2a2af5"/>
<rect x="318.6" y="347.8" width="48.39999999999998" height="1" fill="#2a2af5"/>
<rect x="602" y="347.8" width="11" height="1" fill="#2a2af5"/>
<polygon points="178,425.2 185.6,432.6 185.6,436 181.6,436" fill="#fff"/>
</svg>
</body></html>
